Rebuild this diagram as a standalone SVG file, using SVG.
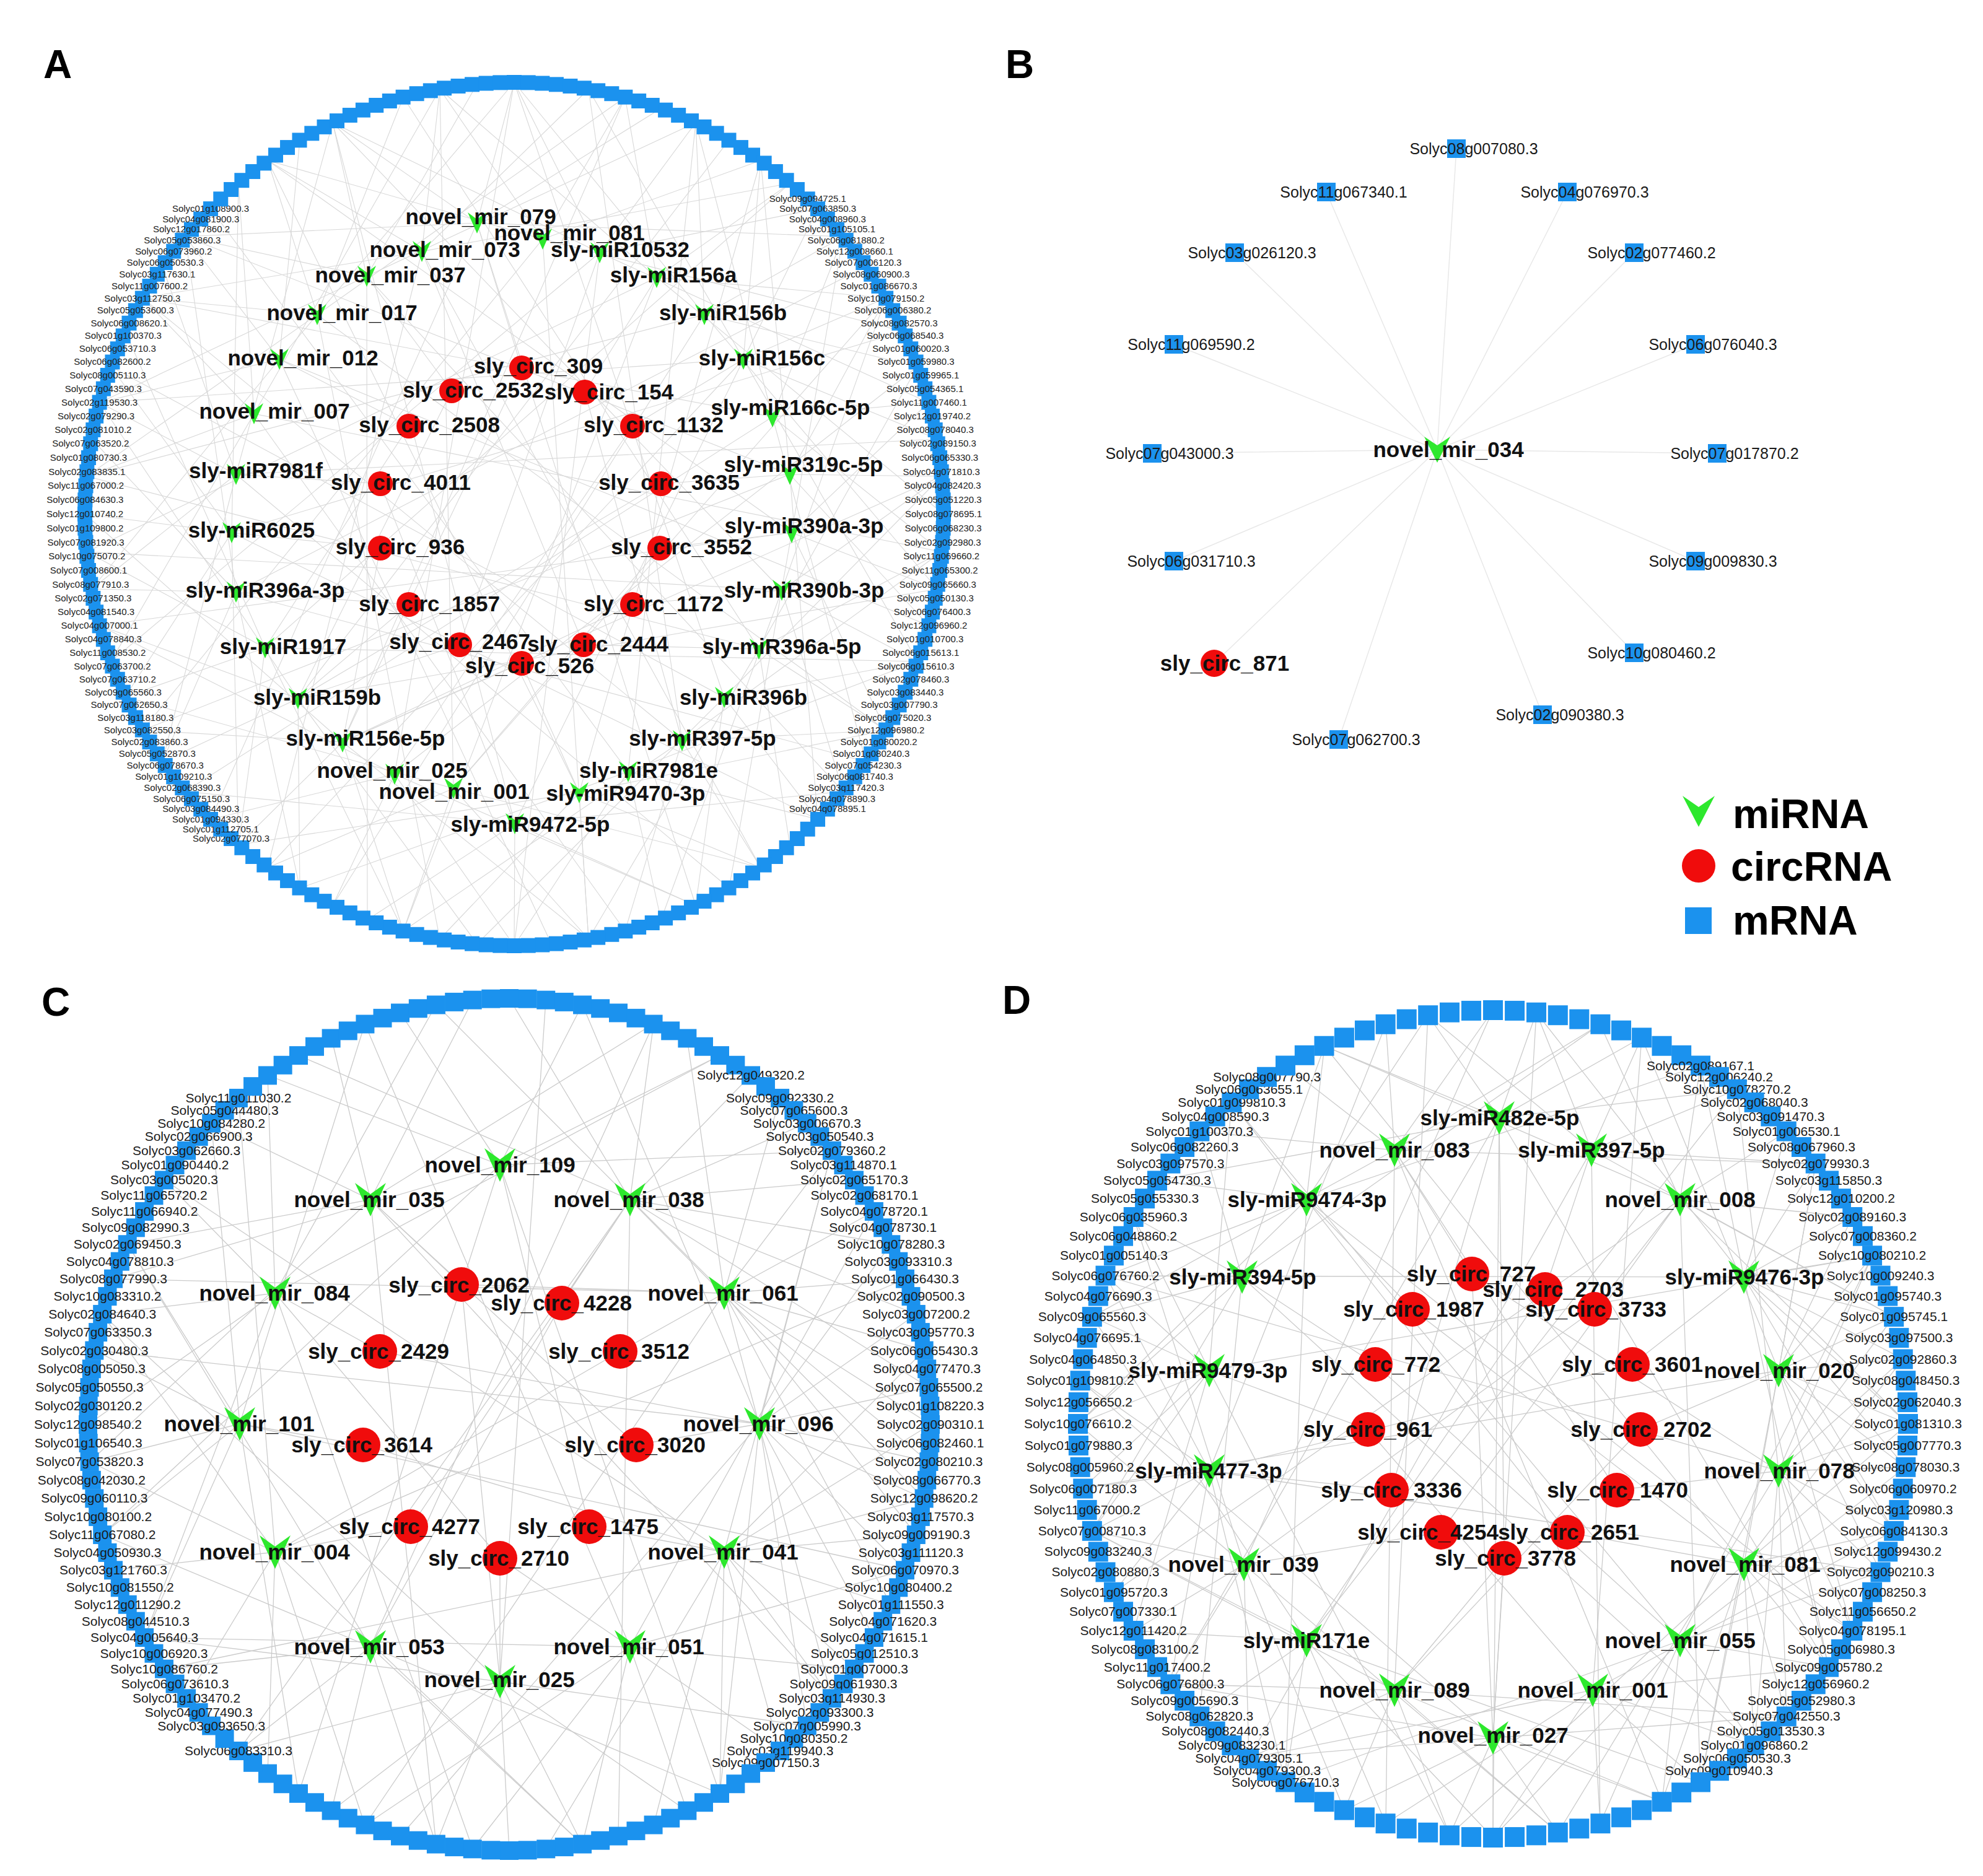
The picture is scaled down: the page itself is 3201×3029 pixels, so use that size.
<svg xmlns="http://www.w3.org/2000/svg" width="3201" height="3029" viewBox="0 0 3201 3029">
<style>
text{font-family:"Liberation Sans",Arial,sans-serif}
.e{fill:none;stroke:#cbcbcb;stroke-width:1.3}
.ea{fill:none;stroke:#d8d8d8;stroke-width:1.1}
.eb{fill:none;stroke:#e8e8e8;stroke-width:1.5}
.mi{fill:#2de82d}
.ci{fill:#f00c0c}
.mr{fill:#1b92ee}
.t{font-weight:bold;font-size:35px;text-anchor:middle;fill:#111}
.ra{font-size:15px;text-anchor:middle;fill:#222}
.rc{font-size:21px;text-anchor:middle;fill:#1a1a1a}
.rb{font-size:25px;text-anchor:middle;fill:#1a1a1a}
.p{font-weight:bold;font-size:64px;fill:#000}
.lg{font-weight:bold;font-size:66px;fill:#000}
</style>
<defs>
<rect id="sa" class="mr" x="-12" y="-12" width="24" height="24"/>
<rect id="sc" class="mr" x="-15" y="-15" width="30" height="30"/>
<rect id="sd" class="mr" x="-16" y="-16" width="32" height="32"/>
<rect id="sb" class="mr" x="-15" y="-15" width="30" height="30"/>
<path id="va" class="mi" d="M-15 -17L0 -6L15 -17L0 17Z"/>
<path id="vb" class="mi" d="M-21 -21L0 -7L21 -21L0 21Z"/>
<path id="vc" class="mi" d="M-25 -27L0 -9L25 -27L0 27Z"/>
<path id="vl" class="mi" d="M-26 -25L0 -7L26 -25L0 25Z"/>
<circle id="ca" class="ci" r="20"/>
<circle id="cb" class="ci" r="22"/>
<circle id="cc" class="ci" r="28"/>
</defs>
<rect width="3201" height="3029" fill="#fff"/>
<g id="panel-labels">
<text class="p" x="70" y="126">A</text>
<text class="p" x="1623" y="126">B</text>
<text class="p" x="67" y="1640">C</text>
<text class="p" x="1618" y="1637">D</text>
</g>
<g id="connectors">
<g id="edges-A" class="ea">
<path d="M299 382L770 360L537 198M830 133L770 360L1067 175M1361 382L770 360L1123 1462M340 1323L770 360"/>
<path d="M432 259L876 386L710 144M1009 157L876 386L1228 259M1458 535L876 386L950 1516M230 1179L876 386"/>
<path d="M230 481L681 406L432 259M710 144L681 406L950 144M1275 296L681 406L1228 1401M432 1401L681 406"/>
<path d="M537 198L968 408L830 133M1123 198L968 408L1320 337M1499 650L968 408L830 1527M179 1068L968 408"/>
<path d="M161 650L592 446L299 382M537 198L592 446L770 136M1123 198L592 446L1361 1278M593 1485L592 446"/>
<path d="M710 144L1060 448L1009 157M1275 296L1060 448L1430 481M1523 830L1060 448L651 1503M140 891L1060 448"/>
<path d="M140 769L512 508L230 481M432 259L512 508L651 157M1009 157L512 508L1430 1179M710 1516L512 508"/>
<path d="M830 133L1137 508L1123 198M1361 382L1137 508L1481 592M1513 951L1137 508L537 1462M140 769L1137 508"/>
<path d="M148 951L451 580L161 650M299 382L451 580L484 226M830 133L451 580L1499 1010M890 1524L451 580"/>
<path d="M950 144L1200 580L1228 259M1430 481L1200 580L1513 709M1481 1068L1200 580L432 1401M161 650L1200 580"/>
<path d="M179 1068L410 668L140 769M230 481L410 668L385 296M710 144L410 668L1520 891M1009 1503L410 668"/>
<path d="M1123 198L1247 673L1361 382M1499 650L1247 673L1520 891M1398 1230L1247 673L299 1278M230 481L1247 673"/>
<path d="M262 1230L381 766L148 951M161 650L381 766L262 430M537 198L381 766L1513 709M1177 1434L381 766"/>
<path d="M1228 259L1275 766L1430 481M1520 769L1275 766L1499 1010M1320 1323L1275 766L230 1179M299 382L1275 766"/>
<path d="M385 1364L374 860L202 1125M137 830L374 860L179 592M385 296L374 860L1458 535M1320 1323L374 860"/>
<path d="M1361 382L1278 860L1499 650M1513 951L1278 860L1430 1179M1177 1434L1278 860L161 1010M432 259L1278 860"/>
<path d="M484 1434L381 956L262 1230M148 951L381 956L148 709M299 382L381 956L1398 430M1398 1230L381 956"/>
<path d="M1430 481L1262 953L1520 769M1481 1068L1262 953L1361 1278M1067 1485L1262 953L140 891M537 198L1262 953"/>
<path d="M651 1503L428 1046L385 1364M202 1125L428 1046L140 891M202 535L428 1046L1275 296M1481 1068L428 1046"/>
<path d="M1481 592L1225 1048L1520 891M1430 1179L1225 1048L1275 1364M950 1516L1225 1048L140 769M651 157L1225 1048"/>
<path d="M770 1524L481 1128L484 1434M262 1230L481 1128L161 1010M161 650L481 1128L1177 226M1513 951L481 1128"/>
<path d="M1520 769L1169 1126L1481 1068M1320 1323L1169 1126L1123 1462M770 1524L1169 1126L179 592M830 133L1169 1126"/>
<path d="M950 1516L553 1198L651 1503M385 1364L553 1198L230 1179M137 830L553 1198L1009 157M1520 769L553 1198"/>
<path d="M1520 891L1101 1196L1430 1179M1228 1401L1101 1196L1009 1503M651 1503L1101 1196L230 481M950 144L1101 1196"/>
<path d="M1123 1462L637 1250L830 1527M537 1462L637 1250L340 1323M161 1010L637 1250L830 133M1481 592L637 1250"/>
<path d="M1481 1068L1014 1246L1320 1323M1067 1485L1014 1246L830 1527M484 1434L1014 1246L340 337M1123 198L1014 1246"/>
<path d="M1228 1401L732 1273L950 1516M651 1503L732 1273L432 1401M202 1125L732 1273L710 144M1430 481L732 1273"/>
<path d="M1430 1179L935 1280L1228 1401M950 1516L935 1280L710 1516M385 1364L935 1280L432 259M1228 259L935 1280"/>
<path d="M1361 1278L831 1330L1123 1462M830 1527L831 1330L593 1485M299 1278L831 1330L537 198M1320 337L831 1330"/>
<path d="M770 360L842 594L553 1198M592 446L729 631L481 1128M1060 448L944 633L1101 1196M451 580L660 688L428 1046M1200 580L1021 688L637 1250M381 766L614 781L831 1330M1275 766L1067 781L481 1128M374 860L614 885L553 1198M1278 860L1065 885L732 1273M381 956L660 976L481 1128M1262 953L1021 976L553 1198M481 1128L742 1041L968 408M1225 1048L942 1041L681 406M935 1280L842 1071L553 1198"/>
</g>
<g id="edges-B" class="eb">
<path d="M2351 240L2320 726L2141 310M2530 310L2320 726L1993 408M2638 408L2320 726L1895 556M2737 556L2320 726L1860 732M2772 732L2320 726L1895 906M2737 906L2320 726L2638 1054M2490 1154L2320 726L2161 1194M1960 1071L2320 726"/>
</g>
<g id="edges-C" class="e">
<path d="M432 1736L807 1881L646 1635M940 1622L807 1881L1162 1704M1343 1858L807 1881L183 2065M1162 2896L807 1881L482 2896M165 2478L807 1881"/>
<path d="M206 2009L598 1937L341 1813M535 1676L598 1937L763 1615M1055 1653L598 1937L145 2360M704 2978L598 1937L1343 2742"/>
<path d="M822 1612L1017 1937L1055 1653M1212 1736L1017 1937L1303 1813M1379 1905L1017 1937L1438 2009M1479 2122L1017 1937L1499 2240M1492 2420L1017 1937L482 1704M385 2827L1017 1937L998 2965"/>
<path d="M142 2300L444 2088L165 2122M265 1905L444 2088L432 1736M704 1622L444 2088L233 2644M1162 1704L444 2088L763 2985"/>
<path d="M1109 1676L1169 2088L1259 1773M1343 1858L1169 2088L1411 1956M1461 2065L1169 2088L1492 2180M1502 2300L1169 2088L1499 2360M1479 2478L1169 2088L1438 2591M1343 2742L1169 2088L704 1622M183 2065L1169 2088L589 2947"/>
<path d="M233 2644L387 2299L165 2478M145 2360L387 2299L152 2180M206 2009L387 2299L341 1813M482 2896L387 2299L589 1653M1461 2535L387 2299"/>
<path d="M1343 1858L1226 2299L1438 2009M1479 2122L1226 2299L1499 2240M1499 2360L1226 2299L1492 2420M1461 2535L1226 2299L1411 2644M1303 2787L1226 2299L1162 2896M940 1622L1226 2299L646 2965M152 2180L1226 2299"/>
<path d="M432 2864L444 2506L301 2742M183 2535L444 2506L145 2360M165 2122L444 2506L589 2947M940 2978L444 2506L385 1773M1461 2065L444 2506"/>
<path d="M1492 2180L1169 2506L1502 2300M1492 2420L1169 2506L1479 2478M1438 2591L1169 2506L1379 2695M1343 2742L1169 2506L1259 2827M1162 2896L1169 2506L1055 2947M881 2985L1169 2506L1343 1858M265 2695L1169 2506L265 1905"/>
<path d="M704 2978L598 2659L535 2924M385 2827L598 2659L265 2695M165 2478L598 2659L940 2978M1162 2896L598 2659L206 2009M1055 1653L598 2659"/>
<path d="M1461 2535L1017 2659L1379 2695M1259 2827L1017 2659L1109 2924M940 2978L1017 2659L763 2985M589 2947L1017 2659L1411 1956M233 2644L1017 2659L589 1653"/>
<path d="M1109 2924L807 2715L940 2978M822 2988L807 2715L704 2978M535 2924L807 2715L385 2827M1303 2787L807 2715L233 2644M881 1615L807 2715L165 2122"/>
<path d="M598 1937L745 2074L1169 2088M745 2074L807 2715M1017 1937L907 2104L598 2659M444 2088L613 2182L1226 2299M1169 2088L1001 2182L444 2506M387 2299L586 2333L1169 2506M1226 2299L1027 2333L598 1937M444 2506L663 2465L1017 1937M1169 2506L951 2465L807 1881M807 2715L807 2516L1017 2659M807 2516L444 2088"/>
</g>
<g id="edges-D" class="e">
<path d="M2138 1689L2420 1805L2305 1639M2480 1635L2420 1805L2650 1675M2804 1759L2420 1805L1868 1906M2410 2967L2420 1805L1889 2719M2952 2692L2420 1805"/>
<path d="M1936 1827L2251 1857L2075 1720M2237 1654L2251 1857L2410 1631M2583 1654L2251 1857L1763 2126M2237 2944L2251 1857L2683 2909M2931 1879L2251 1857"/>
<path d="M2305 1639L2569 1857L2480 1635M2650 1675L2569 1857L2804 1759M2931 1879L2569 1857L3057 2126M2583 2944L2569 1857L2016 2839"/>
<path d="M1785 2060L2109 1937L1868 1906M1988 1780L2109 1937L2138 1689M2305 1639L2109 1937L1740 2299M2075 2878L2109 1937L2745 1720M2990 2633L2109 1937"/>
<path d="M2583 1654L2712 1937L2745 1720M2884 1827L2712 1937L2990 1965M3057 2126L2712 1937L3080 2299M2138 1689L2712 1937L2745 2878M1798 2571L2712 1937"/>
<path d="M1740 2299L2005 2062L1763 2126M1830 1965L2005 2062L1936 1827M2138 1689L2005 2062L1763 2472M1936 2771L2005 2062L2583 1654M2832 2818L2005 2062"/>
<path d="M2745 1720L2815 2062L2884 1827M2931 1879L2815 2062L2990 1965M3022 2028L2815 2062L3057 2126M3072 2194L2815 2062L3080 2299M3076 2369L2815 2062L3057 2472M2480 1635L2815 2062L2952 2692M1785 2060L2815 2062"/>
<path d="M1763 2472L1952 2213L1748 2403M1740 2299L1952 2213L1744 2229M1763 2126L1952 2213L1785 2060M1830 1965L1952 2213L1830 2633M1988 1780L1952 2213L2340 2963M3022 2028L1952 2213"/>
<path d="M2931 1879L2871 2213L2990 1965M3022 2028L2871 2213L3057 2126M3072 2194L2871 2213L3080 2299M3076 2369L2871 2213L3057 2472M3036 2538L2871 2213L2990 2633M2650 1675L2871 2213L2745 2878M1748 2403L2871 2213"/>
<path d="M1889 2719L1952 2375L1798 2571M1763 2472L1952 2375L1748 2403M1744 2229L1952 2375L1785 2060M2075 2878L1952 2375L2237 1654M3036 2538L1952 2375"/>
<path d="M3022 2028L2871 2375L3057 2126M3072 2194L2871 2375L3080 2299M3076 2369L2871 2375L3057 2472M3036 2538L2871 2375L2990 2633M2952 2692L2871 2375L2884 2771M2832 2818L2871 2375L2804 1759M2515 2959L2871 2375L1785 2060"/>
<path d="M2016 2839L2008 2526L1889 2719M1830 2633L2008 2526L1763 2472M1740 2299L2008 2526L2170 2923M1830 1965L2008 2526L2515 2959M2410 1631L2008 2526"/>
<path d="M3072 2194L2815 2526L3080 2299M3057 2472L2815 2526L3036 2538M2990 2633L2815 2526L2952 2692M2884 2771L2815 2526L2832 2818M2745 2878L2815 2526L2683 2909M2931 1879L2815 2526L2340 2963M2138 1689L2815 2526"/>
<path d="M2237 2944L2109 2649L2075 2878M1936 2771L2109 2649L1830 2633M1763 2472L2109 2649L2410 2967M1763 2126L2109 2649L2745 2878M2804 1759L2109 2649"/>
<path d="M3076 2369L2712 2649L3036 2538M2952 2692L2712 2649L2832 2818M2683 2909L2712 2649L2583 2944M2410 2967L2712 2649L3022 2028M2075 2878L2712 2649L1988 1780"/>
<path d="M2515 2959L2251 2729L2340 2963M2170 2923L2251 2729L2016 2839M1889 2719L2251 2729L2683 2909M1763 2472L2251 2729L2884 2771M2305 1639L2251 2729"/>
<path d="M2952 2692L2571 2729L2832 2818M2745 2878L2571 2729L2583 2944M2410 2967L2571 2729L2237 2944M3057 2472L2571 2729L2016 2839M2650 1675L2571 2729"/>
<path d="M2683 2909L2410 2806L2515 2959M2410 2967L2410 2806L2340 2963M2170 2923L2410 2806L2016 2839M2884 2771L2410 2806L1889 2719M2480 1635L2410 2806L1744 2229"/>
<path d="M2251 1857L2376 2057L2871 2375M2376 2057L2410 2806M2569 1857L2494 2082L2109 2649M2109 1937L2280 2114L2815 2526M2712 1937L2574 2114L2008 2526M2005 2062L2220 2203L2712 2649M2815 2062L2635 2203L1952 2375M1952 2213L2208 2308L2571 2729M2871 2213L2648 2308L2251 2729M1952 2375L2246 2406L2420 1805M2871 2375L2610 2406L2251 1857M2008 2526L2326 2474L2712 1937M2815 2526L2530 2474L2109 1937M2410 2806L2428 2516L2420 1805M2428 2516L2251 2729"/>
</g>
</g>
<g id="ring-A" transform="translate(830 830) scale(693 697)">
<g id="a0" transform="rotate(0) translate(1) rotate(0) scale(.001443 .00143472)"><use href="#sa"/><text class="ra" y="5">Solyc08g078695.1</text></g>
<g id="a1" transform="rotate(1.875) translate(1) rotate(-1.875) scale(.001443 .00143472)"><use href="#sa"/><text class="ra" y="5">Solyc06g068230.3</text></g>
<g id="a2" transform="rotate(3.75) translate(1) rotate(-3.75) scale(.001443 .00143472)"><use href="#sa"/><text class="ra" y="5">Solyc02g092980.3</text></g>
<g id="a3" transform="rotate(5.625) translate(1) rotate(-5.625) scale(.001443 .00143472)"><use href="#sa"/><text class="ra" y="5">Solyc11g069660.2</text></g>
<g id="a4" transform="rotate(7.5) translate(1) rotate(-7.5) scale(.001443 .00143472)"><use href="#sa"/><text class="ra" y="5">Solyc11g065300.2</text></g>
<g id="a5" transform="rotate(9.375) translate(1) rotate(-9.375) scale(.001443 .00143472)"><use href="#sa"/><text class="ra" y="5">Solyc09g065660.3</text></g>
<g id="a6" transform="rotate(11.25) translate(1) rotate(-11.25) scale(.001443 .00143472)"><use href="#sa"/><text class="ra" y="5">Solyc05g050130.3</text></g>
<g id="a7" transform="rotate(13.125) translate(1) rotate(-13.125) scale(.001443 .00143472)"><use href="#sa"/><text class="ra" y="5">Solyc06g076400.3</text></g>
<g id="a8" transform="rotate(15) translate(1) rotate(-15) scale(.001443 .00143472)"><use href="#sa"/><text class="ra" y="5">Solyc12g096960.2</text></g>
<g id="a9" transform="rotate(16.875) translate(1) rotate(-16.875) scale(.001443 .00143472)"><use href="#sa"/><text class="ra" y="5">Solyc01g010700.3</text></g>
<g id="a10" transform="rotate(18.75) translate(1) rotate(-18.75) scale(.001443 .00143472)"><use href="#sa"/><text class="ra" y="5">Solyc06g015613.1</text></g>
<g id="a11" transform="rotate(20.625) translate(1) rotate(-20.625) scale(.001443 .00143472)"><use href="#sa"/><text class="ra" y="5">Solyc06g015610.3</text></g>
<g id="a12" transform="rotate(22.5) translate(1) rotate(-22.5) scale(.001443 .00143472)"><use href="#sa"/><text class="ra" y="5">Solyc02g078460.3</text></g>
<g id="a13" transform="rotate(24.375) translate(1) rotate(-24.375) scale(.001443 .00143472)"><use href="#sa"/><text class="ra" y="5">Solyc03g083440.3</text></g>
<g id="a14" transform="rotate(26.25) translate(1) rotate(-26.25) scale(.001443 .00143472)"><use href="#sa"/><text class="ra" y="5">Solyc03g007790.3</text></g>
<g id="a15" transform="rotate(28.125) translate(1) rotate(-28.125) scale(.001443 .00143472)"><use href="#sa"/><text class="ra" y="5">Solyc06g075020.3</text></g>
<g id="a16" transform="rotate(30) translate(1) rotate(-30) scale(.001443 .00143472)"><use href="#sa"/><text class="ra" y="5">Solyc12g096980.2</text></g>
<g id="a17" transform="rotate(31.875) translate(1) rotate(-31.875) scale(.001443 .00143472)"><use href="#sa"/><text class="ra" y="5">Solyc01g080020.2</text></g>
<g id="a18" transform="rotate(33.75) translate(1) rotate(-33.75) scale(.001443 .00143472)"><use href="#sa"/><text class="ra" y="5">Solyc01g080240.3</text></g>
<g id="a19" transform="rotate(35.625) translate(1) rotate(-35.625) scale(.001443 .00143472)"><use href="#sa"/><text class="ra" y="5">Solyc07g054230.3</text></g>
<g id="a20" transform="rotate(37.5) translate(1) rotate(-37.5) scale(.001443 .00143472)"><use href="#sa"/><text class="ra" y="5">Solyc06g081740.3</text></g>
<g id="a21" transform="rotate(39.375) translate(1) rotate(-39.375) scale(.001443 .00143472)"><use href="#sa"/><text class="ra" y="5">Solyc03g117420.3</text></g>
<g id="a22" transform="rotate(41.25) translate(1) rotate(-41.25) scale(.001443 .00143472)"><use href="#sa"/><text class="ra" y="5">Solyc04g078890.3</text></g>
<g id="a23" transform="rotate(43.125) translate(1) rotate(-43.125) scale(.001443 .00143472)"><use href="#sa"/><text class="ra" y="5">Solyc04g078895.1</text></g>
<g id="a24" transform="rotate(45) translate(1) rotate(-45) scale(.001443 .00143472)"><use href="#sa"/></g>
<g id="a25" transform="rotate(46.875) translate(1) rotate(-46.875) scale(.001443 .00143472)"><use href="#sa"/></g>
<g id="a26" transform="rotate(48.75) translate(1) rotate(-48.75) scale(.001443 .00143472)"><use href="#sa"/></g>
<g id="a27" transform="rotate(50.625) translate(1) rotate(-50.625) scale(.001443 .00143472)"><use href="#sa"/></g>
<g id="a28" transform="rotate(52.5) translate(1) rotate(-52.5) scale(.001443 .00143472)"><use href="#sa"/></g>
<g id="a29" transform="rotate(54.375) translate(1) rotate(-54.375) scale(.001443 .00143472)"><use href="#sa"/></g>
<g id="a30" transform="rotate(56.25) translate(1) rotate(-56.25) scale(.001443 .00143472)"><use href="#sa"/></g>
<g id="a31" transform="rotate(58.125) translate(1) rotate(-58.125) scale(.001443 .00143472)"><use href="#sa"/></g>
<g id="a32" transform="rotate(60) translate(1) rotate(-60) scale(.001443 .00143472)"><use href="#sa"/></g>
<g id="a33" transform="rotate(61.875) translate(1) rotate(-61.875) scale(.001443 .00143472)"><use href="#sa"/></g>
<g id="a34" transform="rotate(63.75) translate(1) rotate(-63.75) scale(.001443 .00143472)"><use href="#sa"/></g>
<g id="a35" transform="rotate(65.625) translate(1) rotate(-65.625) scale(.001443 .00143472)"><use href="#sa"/></g>
<g id="a36" transform="rotate(67.5) translate(1) rotate(-67.5) scale(.001443 .00143472)"><use href="#sa"/></g>
<g id="a37" transform="rotate(69.375) translate(1) rotate(-69.375) scale(.001443 .00143472)"><use href="#sa"/></g>
<g id="a38" transform="rotate(71.25) translate(1) rotate(-71.25) scale(.001443 .00143472)"><use href="#sa"/></g>
<g id="a39" transform="rotate(73.125) translate(1) rotate(-73.125) scale(.001443 .00143472)"><use href="#sa"/></g>
<g id="a40" transform="rotate(75) translate(1) rotate(-75) scale(.001443 .00143472)"><use href="#sa"/></g>
<g id="a41" transform="rotate(76.875) translate(1) rotate(-76.875) scale(.001443 .00143472)"><use href="#sa"/></g>
<g id="a42" transform="rotate(78.75) translate(1) rotate(-78.75) scale(.001443 .00143472)"><use href="#sa"/></g>
<g id="a43" transform="rotate(80.625) translate(1) rotate(-80.625) scale(.001443 .00143472)"><use href="#sa"/></g>
<g id="a44" transform="rotate(82.5) translate(1) rotate(-82.5) scale(.001443 .00143472)"><use href="#sa"/></g>
<g id="a45" transform="rotate(84.375) translate(1) rotate(-84.375) scale(.001443 .00143472)"><use href="#sa"/></g>
<g id="a46" transform="rotate(86.25) translate(1) rotate(-86.25) scale(.001443 .00143472)"><use href="#sa"/></g>
<g id="a47" transform="rotate(88.125) translate(1) rotate(-88.125) scale(.001443 .00143472)"><use href="#sa"/></g>
<g id="a48" transform="rotate(90) translate(1) rotate(-90) scale(.001443 .00143472)"><use href="#sa"/></g>
<g id="a49" transform="rotate(91.875) translate(1) rotate(-91.875) scale(.001443 .00143472)"><use href="#sa"/></g>
<g id="a50" transform="rotate(93.75) translate(1) rotate(-93.75) scale(.001443 .00143472)"><use href="#sa"/></g>
<g id="a51" transform="rotate(95.625) translate(1) rotate(-95.625) scale(.001443 .00143472)"><use href="#sa"/></g>
<g id="a52" transform="rotate(97.5) translate(1) rotate(-97.5) scale(.001443 .00143472)"><use href="#sa"/></g>
<g id="a53" transform="rotate(99.375) translate(1) rotate(-99.375) scale(.001443 .00143472)"><use href="#sa"/></g>
<g id="a54" transform="rotate(101.25) translate(1) rotate(-101.25) scale(.001443 .00143472)"><use href="#sa"/></g>
<g id="a55" transform="rotate(103.125) translate(1) rotate(-103.125) scale(.001443 .00143472)"><use href="#sa"/></g>
<g id="a56" transform="rotate(105) translate(1) rotate(-105) scale(.001443 .00143472)"><use href="#sa"/></g>
<g id="a57" transform="rotate(106.875) translate(1) rotate(-106.875) scale(.001443 .00143472)"><use href="#sa"/></g>
<g id="a58" transform="rotate(108.75) translate(1) rotate(-108.75) scale(.001443 .00143472)"><use href="#sa"/></g>
<g id="a59" transform="rotate(110.625) translate(1) rotate(-110.625) scale(.001443 .00143472)"><use href="#sa"/></g>
<g id="a60" transform="rotate(112.5) translate(1) rotate(-112.5) scale(.001443 .00143472)"><use href="#sa"/></g>
<g id="a61" transform="rotate(114.375) translate(1) rotate(-114.375) scale(.001443 .00143472)"><use href="#sa"/></g>
<g id="a62" transform="rotate(116.25) translate(1) rotate(-116.25) scale(.001443 .00143472)"><use href="#sa"/></g>
<g id="a63" transform="rotate(118.125) translate(1) rotate(-118.125) scale(.001443 .00143472)"><use href="#sa"/></g>
<g id="a64" transform="rotate(120) translate(1) rotate(-120) scale(.001443 .00143472)"><use href="#sa"/></g>
<g id="a65" transform="rotate(121.875) translate(1) rotate(-121.875) scale(.001443 .00143472)"><use href="#sa"/></g>
<g id="a66" transform="rotate(123.75) translate(1) rotate(-123.75) scale(.001443 .00143472)"><use href="#sa"/></g>
<g id="a67" transform="rotate(125.625) translate(1) rotate(-125.625) scale(.001443 .00143472)"><use href="#sa"/></g>
<g id="a68" transform="rotate(127.5) translate(1) rotate(-127.5) scale(.001443 .00143472)"><use href="#sa"/></g>
<g id="a69" transform="rotate(129.375) translate(1) rotate(-129.375) scale(.001443 .00143472)"><use href="#sa"/></g>
<g id="a70" transform="rotate(131.25) translate(1) rotate(-131.25) scale(.001443 .00143472)"><use href="#sa"/><text class="ra" y="5">Solyc02g077070.3</text></g>
<g id="a71" transform="rotate(133.125) translate(1) rotate(-133.125) scale(.001443 .00143472)"><use href="#sa"/><text class="ra" y="5">Solyc01g112705.1</text></g>
<g id="a72" transform="rotate(135) translate(1) rotate(-135) scale(.001443 .00143472)"><use href="#sa"/><text class="ra" y="5">Solyc01g094330.3</text></g>
<g id="a73" transform="rotate(136.875) translate(1) rotate(-136.875) scale(.001443 .00143472)"><use href="#sa"/><text class="ra" y="5">Solyc03g084490.3</text></g>
<g id="a74" transform="rotate(138.75) translate(1) rotate(-138.75) scale(.001443 .00143472)"><use href="#sa"/><text class="ra" y="5">Solyc06g075150.3</text></g>
<g id="a75" transform="rotate(140.625) translate(1) rotate(-140.625) scale(.001443 .00143472)"><use href="#sa"/><text class="ra" y="5">Solyc02g068390.3</text></g>
<g id="a76" transform="rotate(142.5) translate(1) rotate(-142.5) scale(.001443 .00143472)"><use href="#sa"/><text class="ra" y="5">Solyc01g109210.3</text></g>
<g id="a77" transform="rotate(144.375) translate(1) rotate(-144.375) scale(.001443 .00143472)"><use href="#sa"/><text class="ra" y="5">Solyc06g078670.3</text></g>
<g id="a78" transform="rotate(146.25) translate(1) rotate(-146.25) scale(.001443 .00143472)"><use href="#sa"/><text class="ra" y="5">Solyc05g052870.3</text></g>
<g id="a79" transform="rotate(148.125) translate(1) rotate(-148.125) scale(.001443 .00143472)"><use href="#sa"/><text class="ra" y="5">Solyc02g083860.3</text></g>
<g id="a80" transform="rotate(150) translate(1) rotate(-150) scale(.001443 .00143472)"><use href="#sa"/><text class="ra" y="5">Solyc03g082550.3</text></g>
<g id="a81" transform="rotate(151.875) translate(1) rotate(-151.875) scale(.001443 .00143472)"><use href="#sa"/><text class="ra" y="5">Solyc03g118180.3</text></g>
<g id="a82" transform="rotate(153.75) translate(1) rotate(-153.75) scale(.001443 .00143472)"><use href="#sa"/><text class="ra" y="5">Solyc07g062650.3</text></g>
<g id="a83" transform="rotate(155.625) translate(1) rotate(-155.625) scale(.001443 .00143472)"><use href="#sa"/><text class="ra" y="5">Solyc09g065560.3</text></g>
<g id="a84" transform="rotate(157.5) translate(1) rotate(-157.5) scale(.001443 .00143472)"><use href="#sa"/><text class="ra" y="5">Solyc07g063710.2</text></g>
<g id="a85" transform="rotate(159.375) translate(1) rotate(-159.375) scale(.001443 .00143472)"><use href="#sa"/><text class="ra" y="5">Solyc07g063700.2</text></g>
<g id="a86" transform="rotate(161.25) translate(1) rotate(-161.25) scale(.001443 .00143472)"><use href="#sa"/><text class="ra" y="5">Solyc11g008530.2</text></g>
<g id="a87" transform="rotate(163.125) translate(1) rotate(-163.125) scale(.001443 .00143472)"><use href="#sa"/><text class="ra" y="5">Solyc04g078840.3</text></g>
<g id="a88" transform="rotate(165) translate(1) rotate(-165) scale(.001443 .00143472)"><use href="#sa"/><text class="ra" y="5">Solyc04g007000.1</text></g>
<g id="a89" transform="rotate(166.875) translate(1) rotate(-166.875) scale(.001443 .00143472)"><use href="#sa"/><text class="ra" y="5">Solyc04g081540.3</text></g>
<g id="a90" transform="rotate(168.75) translate(1) rotate(-168.75) scale(.001443 .00143472)"><use href="#sa"/><text class="ra" y="5">Solyc02g071350.3</text></g>
<g id="a91" transform="rotate(170.625) translate(1) rotate(-170.625) scale(.001443 .00143472)"><use href="#sa"/><text class="ra" y="5">Solyc08g077910.3</text></g>
<g id="a92" transform="rotate(172.5) translate(1) rotate(-172.5) scale(.001443 .00143472)"><use href="#sa"/><text class="ra" y="5">Solyc07g008600.1</text></g>
<g id="a93" transform="rotate(174.375) translate(1) rotate(-174.375) scale(.001443 .00143472)"><use href="#sa"/><text class="ra" y="5">Solyc10g075070.2</text></g>
<g id="a94" transform="rotate(176.25) translate(1) rotate(-176.25) scale(.001443 .00143472)"><use href="#sa"/><text class="ra" y="5">Solyc07g081920.3</text></g>
<g id="a95" transform="rotate(178.125) translate(1) rotate(-178.125) scale(.001443 .00143472)"><use href="#sa"/><text class="ra" y="5">Solyc01g109800.2</text></g>
<g id="a96" transform="rotate(180) translate(1) rotate(-180) scale(.001443 .00143472)"><use href="#sa"/><text class="ra" y="5">Solyc12g010740.2</text></g>
<g id="a97" transform="rotate(181.875) translate(1) rotate(-181.875) scale(.001443 .00143472)"><use href="#sa"/><text class="ra" y="5">Solyc06g084630.3</text></g>
<g id="a98" transform="rotate(183.75) translate(1) rotate(-183.75) scale(.001443 .00143472)"><use href="#sa"/><text class="ra" y="5">Solyc11g067000.2</text></g>
<g id="a99" transform="rotate(185.625) translate(1) rotate(-185.625) scale(.001443 .00143472)"><use href="#sa"/><text class="ra" y="5">Solyc02g083835.1</text></g>
<g id="a100" transform="rotate(187.5) translate(1) rotate(-187.5) scale(.001443 .00143472)"><use href="#sa"/><text class="ra" y="5">Solyc01g080730.3</text></g>
<g id="a101" transform="rotate(189.375) translate(1) rotate(-189.375) scale(.001443 .00143472)"><use href="#sa"/><text class="ra" y="5">Solyc07g063520.2</text></g>
<g id="a102" transform="rotate(191.25) translate(1) rotate(-191.25) scale(.001443 .00143472)"><use href="#sa"/><text class="ra" y="5">Solyc02g081010.2</text></g>
<g id="a103" transform="rotate(193.125) translate(1) rotate(-193.125) scale(.001443 .00143472)"><use href="#sa"/><text class="ra" y="5">Solyc02g079290.3</text></g>
<g id="a104" transform="rotate(195) translate(1) rotate(-195) scale(.001443 .00143472)"><use href="#sa"/><text class="ra" y="5">Solyc02g119530.3</text></g>
<g id="a105" transform="rotate(196.875) translate(1) rotate(-196.875) scale(.001443 .00143472)"><use href="#sa"/><text class="ra" y="5">Solyc07g043590.3</text></g>
<g id="a106" transform="rotate(198.75) translate(1) rotate(-198.75) scale(.001443 .00143472)"><use href="#sa"/><text class="ra" y="5">Solyc08g005110.3</text></g>
<g id="a107" transform="rotate(200.625) translate(1) rotate(-200.625) scale(.001443 .00143472)"><use href="#sa"/><text class="ra" y="5">Solyc06g082600.2</text></g>
<g id="a108" transform="rotate(202.5) translate(1) rotate(-202.5) scale(.001443 .00143472)"><use href="#sa"/><text class="ra" y="5">Solyc06g053710.3</text></g>
<g id="a109" transform="rotate(204.375) translate(1) rotate(-204.375) scale(.001443 .00143472)"><use href="#sa"/><text class="ra" y="5">Solyc01g100370.3</text></g>
<g id="a110" transform="rotate(206.25) translate(1) rotate(-206.25) scale(.001443 .00143472)"><use href="#sa"/><text class="ra" y="5">Solyc06g008620.1</text></g>
<g id="a111" transform="rotate(208.125) translate(1) rotate(-208.125) scale(.001443 .00143472)"><use href="#sa"/><text class="ra" y="5">Solyc05g053600.3</text></g>
<g id="a112" transform="rotate(210) translate(1) rotate(-210) scale(.001443 .00143472)"><use href="#sa"/><text class="ra" y="5">Solyc03g112750.3</text></g>
<g id="a113" transform="rotate(211.875) translate(1) rotate(-211.875) scale(.001443 .00143472)"><use href="#sa"/><text class="ra" y="5">Solyc11g007600.2</text></g>
<g id="a114" transform="rotate(213.75) translate(1) rotate(-213.75) scale(.001443 .00143472)"><use href="#sa"/><text class="ra" y="5">Solyc03g117630.1</text></g>
<g id="a115" transform="rotate(215.625) translate(1) rotate(-215.625) scale(.001443 .00143472)"><use href="#sa"/><text class="ra" y="5">Solyc06g050530.3</text></g>
<g id="a116" transform="rotate(217.5) translate(1) rotate(-217.5) scale(.001443 .00143472)"><use href="#sa"/><text class="ra" y="5">Solyc06g073960.2</text></g>
<g id="a117" transform="rotate(219.375) translate(1) rotate(-219.375) scale(.001443 .00143472)"><use href="#sa"/><text class="ra" y="5">Solyc05g053860.3</text></g>
<g id="a118" transform="rotate(221.25) translate(1) rotate(-221.25) scale(.001443 .00143472)"><use href="#sa"/><text class="ra" y="5">Solyc12g017860.2</text></g>
<g id="a119" transform="rotate(223.125) translate(1) rotate(-223.125) scale(.001443 .00143472)"><use href="#sa"/><text class="ra" y="5">Solyc04g081900.3</text></g>
<g id="a120" transform="rotate(225) translate(1) rotate(-225) scale(.001443 .00143472)"><use href="#sa"/><text class="ra" y="5">Solyc01g108900.3</text></g>
<g id="a121" transform="rotate(226.875) translate(1) rotate(-226.875) scale(.001443 .00143472)"><use href="#sa"/></g>
<g id="a122" transform="rotate(228.75) translate(1) rotate(-228.75) scale(.001443 .00143472)"><use href="#sa"/></g>
<g id="a123" transform="rotate(230.625) translate(1) rotate(-230.625) scale(.001443 .00143472)"><use href="#sa"/></g>
<g id="a124" transform="rotate(232.5) translate(1) rotate(-232.5) scale(.001443 .00143472)"><use href="#sa"/></g>
<g id="a125" transform="rotate(234.375) translate(1) rotate(-234.375) scale(.001443 .00143472)"><use href="#sa"/></g>
<g id="a126" transform="rotate(236.25) translate(1) rotate(-236.25) scale(.001443 .00143472)"><use href="#sa"/></g>
<g id="a127" transform="rotate(238.125) translate(1) rotate(-238.125) scale(.001443 .00143472)"><use href="#sa"/></g>
<g id="a128" transform="rotate(240) translate(1) rotate(-240) scale(.001443 .00143472)"><use href="#sa"/></g>
<g id="a129" transform="rotate(241.875) translate(1) rotate(-241.875) scale(.001443 .00143472)"><use href="#sa"/></g>
<g id="a130" transform="rotate(243.75) translate(1) rotate(-243.75) scale(.001443 .00143472)"><use href="#sa"/></g>
<g id="a131" transform="rotate(245.625) translate(1) rotate(-245.625) scale(.001443 .00143472)"><use href="#sa"/></g>
<g id="a132" transform="rotate(247.5) translate(1) rotate(-247.5) scale(.001443 .00143472)"><use href="#sa"/></g>
<g id="a133" transform="rotate(249.375) translate(1) rotate(-249.375) scale(.001443 .00143472)"><use href="#sa"/></g>
<g id="a134" transform="rotate(251.25) translate(1) rotate(-251.25) scale(.001443 .00143472)"><use href="#sa"/></g>
<g id="a135" transform="rotate(253.125) translate(1) rotate(-253.125) scale(.001443 .00143472)"><use href="#sa"/></g>
<g id="a136" transform="rotate(255) translate(1) rotate(-255) scale(.001443 .00143472)"><use href="#sa"/></g>
<g id="a137" transform="rotate(256.875) translate(1) rotate(-256.875) scale(.001443 .00143472)"><use href="#sa"/></g>
<g id="a138" transform="rotate(258.75) translate(1) rotate(-258.75) scale(.001443 .00143472)"><use href="#sa"/></g>
<g id="a139" transform="rotate(260.625) translate(1) rotate(-260.625) scale(.001443 .00143472)"><use href="#sa"/></g>
<g id="a140" transform="rotate(262.5) translate(1) rotate(-262.5) scale(.001443 .00143472)"><use href="#sa"/></g>
<g id="a141" transform="rotate(264.375) translate(1) rotate(-264.375) scale(.001443 .00143472)"><use href="#sa"/></g>
<g id="a142" transform="rotate(266.25) translate(1) rotate(-266.25) scale(.001443 .00143472)"><use href="#sa"/></g>
<g id="a143" transform="rotate(268.125) translate(1) rotate(-268.125) scale(.001443 .00143472)"><use href="#sa"/></g>
<g id="a144" transform="rotate(270) translate(1) rotate(-270) scale(.001443 .00143472)"><use href="#sa"/></g>
<g id="a145" transform="rotate(271.875) translate(1) rotate(-271.875) scale(.001443 .00143472)"><use href="#sa"/></g>
<g id="a146" transform="rotate(273.75) translate(1) rotate(-273.75) scale(.001443 .00143472)"><use href="#sa"/></g>
<g id="a147" transform="rotate(275.625) translate(1) rotate(-275.625) scale(.001443 .00143472)"><use href="#sa"/></g>
<g id="a148" transform="rotate(277.5) translate(1) rotate(-277.5) scale(.001443 .00143472)"><use href="#sa"/></g>
<g id="a149" transform="rotate(279.375) translate(1) rotate(-279.375) scale(.001443 .00143472)"><use href="#sa"/></g>
<g id="a150" transform="rotate(281.25) translate(1) rotate(-281.25) scale(.001443 .00143472)"><use href="#sa"/></g>
<g id="a151" transform="rotate(283.125) translate(1) rotate(-283.125) scale(.001443 .00143472)"><use href="#sa"/></g>
<g id="a152" transform="rotate(285) translate(1) rotate(-285) scale(.001443 .00143472)"><use href="#sa"/></g>
<g id="a153" transform="rotate(286.875) translate(1) rotate(-286.875) scale(.001443 .00143472)"><use href="#sa"/></g>
<g id="a154" transform="rotate(288.75) translate(1) rotate(-288.75) scale(.001443 .00143472)"><use href="#sa"/></g>
<g id="a155" transform="rotate(290.625) translate(1) rotate(-290.625) scale(.001443 .00143472)"><use href="#sa"/></g>
<g id="a156" transform="rotate(292.5) translate(1) rotate(-292.5) scale(.001443 .00143472)"><use href="#sa"/></g>
<g id="a157" transform="rotate(294.375) translate(1) rotate(-294.375) scale(.001443 .00143472)"><use href="#sa"/></g>
<g id="a158" transform="rotate(296.25) translate(1) rotate(-296.25) scale(.001443 .00143472)"><use href="#sa"/></g>
<g id="a159" transform="rotate(298.125) translate(1) rotate(-298.125) scale(.001443 .00143472)"><use href="#sa"/></g>
<g id="a160" transform="rotate(300) translate(1) rotate(-300) scale(.001443 .00143472)"><use href="#sa"/></g>
<g id="a161" transform="rotate(301.875) translate(1) rotate(-301.875) scale(.001443 .00143472)"><use href="#sa"/></g>
<g id="a162" transform="rotate(303.75) translate(1) rotate(-303.75) scale(.001443 .00143472)"><use href="#sa"/></g>
<g id="a163" transform="rotate(305.625) translate(1) rotate(-305.625) scale(.001443 .00143472)"><use href="#sa"/></g>
<g id="a164" transform="rotate(307.5) translate(1) rotate(-307.5) scale(.001443 .00143472)"><use href="#sa"/></g>
<g id="a165" transform="rotate(309.375) translate(1) rotate(-309.375) scale(.001443 .00143472)"><use href="#sa"/></g>
<g id="a166" transform="rotate(311.25) translate(1) rotate(-311.25) scale(.001443 .00143472)"><use href="#sa"/></g>
<g id="a167" transform="rotate(313.125) translate(1) rotate(-313.125) scale(.001443 .00143472)"><use href="#sa"/><text class="ra" y="5">Solyc09g094725.1</text></g>
<g id="a168" transform="rotate(315) translate(1) rotate(-315) scale(.001443 .00143472)"><use href="#sa"/><text class="ra" y="5">Solyc07g063850.3</text></g>
<g id="a169" transform="rotate(316.875) translate(1) rotate(-316.875) scale(.001443 .00143472)"><use href="#sa"/><text class="ra" y="5">Solyc04g008960.3</text></g>
<g id="a170" transform="rotate(318.75) translate(1) rotate(-318.75) scale(.001443 .00143472)"><use href="#sa"/><text class="ra" y="5">Solyc01g105105.1</text></g>
<g id="a171" transform="rotate(320.625) translate(1) rotate(-320.625) scale(.001443 .00143472)"><use href="#sa"/><text class="ra" y="5">Solyc06g081880.2</text></g>
<g id="a172" transform="rotate(322.5) translate(1) rotate(-322.5) scale(.001443 .00143472)"><use href="#sa"/><text class="ra" y="5">Solyc12g008660.1</text></g>
<g id="a173" transform="rotate(324.375) translate(1) rotate(-324.375) scale(.001443 .00143472)"><use href="#sa"/><text class="ra" y="5">Solyc07g006120.3</text></g>
<g id="a174" transform="rotate(326.25) translate(1) rotate(-326.25) scale(.001443 .00143472)"><use href="#sa"/><text class="ra" y="5">Solyc08g060900.3</text></g>
<g id="a175" transform="rotate(328.125) translate(1) rotate(-328.125) scale(.001443 .00143472)"><use href="#sa"/><text class="ra" y="5">Solyc01g086670.3</text></g>
<g id="a176" transform="rotate(330) translate(1) rotate(-330) scale(.001443 .00143472)"><use href="#sa"/><text class="ra" y="5">Solyc10g079150.2</text></g>
<g id="a177" transform="rotate(331.875) translate(1) rotate(-331.875) scale(.001443 .00143472)"><use href="#sa"/><text class="ra" y="5">Solyc06g006380.2</text></g>
<g id="a178" transform="rotate(333.75) translate(1) rotate(-333.75) scale(.001443 .00143472)"><use href="#sa"/><text class="ra" y="5">Solyc08g082570.3</text></g>
<g id="a179" transform="rotate(335.625) translate(1) rotate(-335.625) scale(.001443 .00143472)"><use href="#sa"/><text class="ra" y="5">Solyc06g068540.3</text></g>
<g id="a180" transform="rotate(337.5) translate(1) rotate(-337.5) scale(.001443 .00143472)"><use href="#sa"/><text class="ra" y="5">Solyc01g060020.3</text></g>
<g id="a181" transform="rotate(339.375) translate(1) rotate(-339.375) scale(.001443 .00143472)"><use href="#sa"/><text class="ra" y="5">Solyc01g059980.3</text></g>
<g id="a182" transform="rotate(341.25) translate(1) rotate(-341.25) scale(.001443 .00143472)"><use href="#sa"/><text class="ra" y="5">Solyc01g059965.1</text></g>
<g id="a183" transform="rotate(343.125) translate(1) rotate(-343.125) scale(.001443 .00143472)"><use href="#sa"/><text class="ra" y="5">Solyc05g054365.1</text></g>
<g id="a184" transform="rotate(345) translate(1) rotate(-345) scale(.001443 .00143472)"><use href="#sa"/><text class="ra" y="5">Solyc11g007460.1</text></g>
<g id="a185" transform="rotate(346.875) translate(1) rotate(-346.875) scale(.001443 .00143472)"><use href="#sa"/><text class="ra" y="5">Solyc12g019740.2</text></g>
<g id="a186" transform="rotate(348.75) translate(1) rotate(-348.75) scale(.001443 .00143472)"><use href="#sa"/><text class="ra" y="5">Solyc08g078040.3</text></g>
<g id="a187" transform="rotate(350.625) translate(1) rotate(-350.625) scale(.001443 .00143472)"><use href="#sa"/><text class="ra" y="5">Solyc02g089150.3</text></g>
<g id="a188" transform="rotate(352.5) translate(1) rotate(-352.5) scale(.001443 .00143472)"><use href="#sa"/><text class="ra" y="5">Solyc06g065330.3</text></g>
<g id="a189" transform="rotate(354.375) translate(1) rotate(-354.375) scale(.001443 .00143472)"><use href="#sa"/><text class="ra" y="5">Solyc04g071810.3</text></g>
<g id="a190" transform="rotate(356.25) translate(1) rotate(-356.25) scale(.001443 .00143472)"><use href="#sa"/><text class="ra" y="5">Solyc04g082420.3</text></g>
<g id="a191" transform="rotate(358.125) translate(1) rotate(-358.125) scale(.001443 .00143472)"><use href="#sa"/><text class="ra" y="5">Solyc05g051220.3</text></g>
</g>
<g id="nodes-A">
<g id="A-novel_mir_079"><use href="#va" x="770" y="360"/><text class="t" x="776" y="362">novel_mir_079</text></g>
<g id="A-novel_mir_081"><use href="#va" x="876" y="386"/><text class="t" x="919" y="388">novel_mir_081</text></g>
<g id="A-novel_mir_073"><use href="#va" x="681" y="406"/><text class="t" x="718" y="415">novel_mir_073</text></g>
<g id="A-sly-miR10532"><use href="#va" x="968" y="408"/><text class="t" x="1001" y="415">sly-miR10532</text></g>
<g id="A-novel_mir_037"><use href="#va" x="592" y="446"/><text class="t" x="630" y="456">novel_mir_037</text></g>
<g id="A-sly-miR156a"><use href="#va" x="1060" y="448"/><text class="t" x="1087" y="456">sly-miR156a</text></g>
<g id="A-novel_mir_017"><use href="#va" x="512" y="508"/><text class="t" x="552" y="517">novel_mir_017</text></g>
<g id="A-sly-miR156b"><use href="#va" x="1137" y="508"/><text class="t" x="1167" y="517">sly-miR156b</text></g>
<g id="A-novel_mir_012"><use href="#va" x="451" y="580"/><text class="t" x="489" y="590">novel_mir_012</text></g>
<g id="A-sly-miR156c"><use href="#va" x="1200" y="580"/><text class="t" x="1230" y="590">sly-miR156c</text></g>
<g id="A-novel_mir_007"><use href="#va" x="410" y="668"/><text class="t" x="443" y="676">novel_mir_007</text></g>
<g id="A-sly-miR166c-5p"><use href="#va" x="1247" y="673"/><text class="t" x="1276" y="670">sly-miR166c-5p</text></g>
<g id="A-sly-miR7981f"><use href="#va" x="381" y="766"/><text class="t" x="413" y="772">sly-miR7981f</text></g>
<g id="A-sly-miR319c-5p"><use href="#va" x="1275" y="766"/><text class="t" x="1297" y="762">sly-miR319c-5p</text></g>
<g id="A-sly-miR6025"><use href="#va" x="374" y="860"/><text class="t" x="406" y="868">sly-miR6025</text></g>
<g id="A-sly-miR390a-3p"><use href="#va" x="1278" y="860"/><text class="t" x="1298" y="861">sly-miR390a-3p</text></g>
<g id="A-sly-miR396a-3p"><use href="#va" x="381" y="956"/><text class="t" x="428" y="965">sly-miR396a-3p</text></g>
<g id="A-sly-miR390b-3p"><use href="#va" x="1262" y="953"/><text class="t" x="1298" y="965">sly-miR390b-3p</text></g>
<g id="A-sly-miR1917"><use href="#va" x="428" y="1046"/><text class="t" x="457" y="1056">sly-miR1917</text></g>
<g id="A-sly-miR396a-5p"><use href="#va" x="1225" y="1048"/><text class="t" x="1262" y="1056">sly-miR396a-5p</text></g>
<g id="A-sly-miR159b"><use href="#va" x="481" y="1128"/><text class="t" x="512" y="1138">sly-miR159b</text></g>
<g id="A-sly-miR396b"><use href="#va" x="1169" y="1126"/><text class="t" x="1200" y="1138">sly-miR396b</text></g>
<g id="A-sly-miR156e-5p"><use href="#va" x="553" y="1198"/><text class="t" x="590" y="1204">sly-miR156e-5p</text></g>
<g id="A-sly-miR397-5p"><use href="#va" x="1101" y="1196"/><text class="t" x="1134" y="1204">sly-miR397-5p</text></g>
<g id="A-novel_mir_025"><use href="#va" x="637" y="1250"/><text class="t" x="633" y="1256">novel_mir_025</text></g>
<g id="A-sly-miR7981e"><use href="#va" x="1014" y="1246"/><text class="t" x="1047" y="1256">sly-miR7981e</text></g>
<g id="A-novel_mir_001"><use href="#va" x="732" y="1273"/><text class="t" x="733" y="1290">novel_mir_001</text></g>
<g id="A-sly-miR9470-3p"><use href="#va" x="935" y="1280"/><text class="t" x="1010" y="1293">sly-miR9470-3p</text></g>
<g id="A-sly-miR9472-5p"><use href="#va" x="831" y="1330"/><text class="t" x="856" y="1343">sly-miR9472-5p</text></g>
<g id="A-sly_circ_309"><use href="#ca" x="842" y="594"/><text class="t" x="869" y="603">sly_circ_309</text></g>
<g id="A-sly_circ_2532"><use href="#ca" x="729" y="631"/><text class="t" x="764" y="642">sly_circ_2532</text></g>
<g id="A-sly_circ_154"><use href="#ca" x="944" y="633"/><text class="t" x="983" y="645">sly_circ_154</text></g>
<g id="A-sly_circ_2508"><use href="#ca" x="660" y="688"/><text class="t" x="693" y="698">sly_circ_2508</text></g>
<g id="A-sly_circ_1132"><use href="#ca" x="1021" y="688"/><text class="t" x="1055" y="698">sly_circ_1132</text></g>
<g id="A-sly_circ_4011"><use href="#ca" x="614" y="781"/><text class="t" x="647" y="791">sly_circ_4011</text></g>
<g id="A-sly_circ_3635"><use href="#ca" x="1067" y="781"/><text class="t" x="1080" y="791">sly_circ_3635</text></g>
<g id="A-sly_circ_936"><use href="#ca" x="614" y="885"/><text class="t" x="646" y="895">sly_circ_936</text></g>
<g id="A-sly_circ_3552"><use href="#ca" x="1065" y="885"/><text class="t" x="1100" y="895">sly_circ_3552</text></g>
<g id="A-sly_circ_1857"><use href="#ca" x="660" y="976"/><text class="t" x="693" y="987">sly_circ_1857</text></g>
<g id="A-sly_circ_1172"><use href="#ca" x="1021" y="976"/><text class="t" x="1055" y="987">sly_circ_1172</text></g>
<g id="A-sly_circ_2467"><use href="#ca" x="742" y="1041"/><text class="t" x="742" y="1048">sly_circ_2467</text></g>
<g id="A-sly_circ_2444"><use href="#ca" x="942" y="1041"/><text class="t" x="965" y="1052">sly_circ_2444</text></g>
<g id="A-sly_circ_526"><use href="#ca" x="842" y="1071"/><text class="t" x="855" y="1087">sly_circ_526</text></g>
</g>
<g id="nodes-B">
<g id="B-Solyc08g007080.3"><use href="#sb" x="2351" y="240"/><text class="rb" x="2379" y="249">Solyc08g007080.3</text></g>
<g id="B-Solyc11g067340.1"><use href="#sb" x="2141" y="310"/><text class="rb" x="2169" y="319">Solyc11g067340.1</text></g>
<g id="B-Solyc04g076970.3"><use href="#sb" x="2530" y="310"/><text class="rb" x="2558" y="319">Solyc04g076970.3</text></g>
<g id="B-Solyc03g026120.3"><use href="#sb" x="1993" y="408"/><text class="rb" x="2021" y="417">Solyc03g026120.3</text></g>
<g id="B-Solyc02g077460.2"><use href="#sb" x="2638" y="408"/><text class="rb" x="2666" y="417">Solyc02g077460.2</text></g>
<g id="B-Solyc11g069590.2"><use href="#sb" x="1895" y="556"/><text class="rb" x="1923" y="565">Solyc11g069590.2</text></g>
<g id="B-Solyc06g076040.3"><use href="#sb" x="2737" y="556"/><text class="rb" x="2765" y="565">Solyc06g076040.3</text></g>
<g id="B-Solyc07g043000.3"><use href="#sb" x="1860" y="732"/><text class="rb" x="1888" y="741">Solyc07g043000.3</text></g>
<g id="B-Solyc07g017870.2"><use href="#sb" x="2772" y="732"/><text class="rb" x="2800" y="741">Solyc07g017870.2</text></g>
<g id="B-Solyc06g031710.3"><use href="#sb" x="1895" y="906"/><text class="rb" x="1923" y="915">Solyc06g031710.3</text></g>
<g id="B-Solyc09g009830.3"><use href="#sb" x="2737" y="906"/><text class="rb" x="2765" y="915">Solyc09g009830.3</text></g>
<g id="B-Solyc10g080460.2"><use href="#sb" x="2638" y="1054"/><text class="rb" x="2666" y="1063">Solyc10g080460.2</text></g>
<g id="B-Solyc02g090380.3"><use href="#sb" x="2490" y="1154"/><text class="rb" x="2518" y="1163">Solyc02g090380.3</text></g>
<g id="B-Solyc07g062700.3"><use href="#sb" x="2161" y="1194"/><text class="rb" x="2189" y="1203">Solyc07g062700.3</text></g>
<g id="B-sly_circ_871"><use href="#cb" x="1960" y="1071"/><text class="t" x="1977" y="1083">sly_circ_871</text></g>
<g id="B-novel_mir_034"><use href="#vb" x="2320" y="726"/><text class="t" x="2338" y="738">novel_mir_034</text></g>
</g>
<g id="legend">
<g id="legend-miRNA"><use href="#vl" x="2742" y="1310"/><text class="lg" x="2797" y="1337">miRNA</text></g>
<g id="legend-circRNA"><circle class="ci" cx="2742" cy="1398" r="27"/><text class="lg" x="2794" y="1422">circRNA</text></g>
<g id="legend-mRNA"><rect class="mr" x="2720" y="1465" width="43" height="43"/><text class="lg" x="2797" y="1509">mRNA</text></g>
</g>
<g id="ring-C" transform="translate(822 2300) scale(680 688)">
<g id="c0" transform="rotate(0) translate(1) rotate(0) scale(.00147059 .00145349)"><use href="#sc"/><text class="rc" y="7">Solyc02g090310.1</text></g>
<g id="c1" transform="rotate(2.5) translate(1) rotate(-2.5) scale(.00147059 .00145349)"><use href="#sc"/><text class="rc" y="7">Solyc06g082460.1</text></g>
<g id="c2" transform="rotate(5) translate(1) rotate(-5) scale(.00147059 .00145349)"><use href="#sc"/><text class="rc" y="7">Solyc02g080210.3</text></g>
<g id="c3" transform="rotate(7.5) translate(1) rotate(-7.5) scale(.00147059 .00145349)"><use href="#sc"/><text class="rc" y="7">Solyc08g066770.3</text></g>
<g id="c4" transform="rotate(10) translate(1) rotate(-10) scale(.00147059 .00145349)"><use href="#sc"/><text class="rc" y="7">Solyc12g098620.2</text></g>
<g id="c5" transform="rotate(12.5) translate(1) rotate(-12.5) scale(.00147059 .00145349)"><use href="#sc"/><text class="rc" y="7">Solyc03g117570.3</text></g>
<g id="c6" transform="rotate(15) translate(1) rotate(-15) scale(.00147059 .00145349)"><use href="#sc"/><text class="rc" y="7">Solyc09g009190.3</text></g>
<g id="c7" transform="rotate(17.5) translate(1) rotate(-17.5) scale(.00147059 .00145349)"><use href="#sc"/><text class="rc" y="7">Solyc03g111120.3</text></g>
<g id="c8" transform="rotate(20) translate(1) rotate(-20) scale(.00147059 .00145349)"><use href="#sc"/><text class="rc" y="7">Solyc06g070970.3</text></g>
<g id="c9" transform="rotate(22.5) translate(1) rotate(-22.5) scale(.00147059 .00145349)"><use href="#sc"/><text class="rc" y="7">Solyc10g080400.2</text></g>
<g id="c10" transform="rotate(25) translate(1) rotate(-25) scale(.00147059 .00145349)"><use href="#sc"/><text class="rc" y="7">Solyc01g111550.3</text></g>
<g id="c11" transform="rotate(27.5) translate(1) rotate(-27.5) scale(.00147059 .00145349)"><use href="#sc"/><text class="rc" y="7">Solyc04g071620.3</text></g>
<g id="c12" transform="rotate(30) translate(1) rotate(-30) scale(.00147059 .00145349)"><use href="#sc"/><text class="rc" y="7">Solyc04g071615.1</text></g>
<g id="c13" transform="rotate(32.5) translate(1) rotate(-32.5) scale(.00147059 .00145349)"><use href="#sc"/><text class="rc" y="7">Solyc05g012510.3</text></g>
<g id="c14" transform="rotate(35) translate(1) rotate(-35) scale(.00147059 .00145349)"><use href="#sc"/><text class="rc" y="7">Solyc01g007000.3</text></g>
<g id="c15" transform="rotate(37.5) translate(1) rotate(-37.5) scale(.00147059 .00145349)"><use href="#sc"/><text class="rc" y="7">Solyc09g061930.3</text></g>
<g id="c16" transform="rotate(40) translate(1) rotate(-40) scale(.00147059 .00145349)"><use href="#sc"/><text class="rc" y="7">Solyc03g114930.3</text></g>
<g id="c17" transform="rotate(42.5) translate(1) rotate(-42.5) scale(.00147059 .00145349)"><use href="#sc"/><text class="rc" y="7">Solyc02g093300.3</text></g>
<g id="c18" transform="rotate(45) translate(1) rotate(-45) scale(.00147059 .00145349)"><use href="#sc"/><text class="rc" y="7">Solyc07g005990.3</text></g>
<g id="c19" transform="rotate(47.5) translate(1) rotate(-47.5) scale(.00147059 .00145349)"><use href="#sc"/><text class="rc" y="7">Solyc10g080350.2</text></g>
<g id="c20" transform="rotate(50) translate(1) rotate(-50) scale(.00147059 .00145349)"><use href="#sc"/><text class="rc" y="7">Solyc03g119940.3</text></g>
<g id="c21" transform="rotate(52.5) translate(1) rotate(-52.5) scale(.00147059 .00145349)"><use href="#sc"/><text class="rc" y="7">Solyc09g007150.3</text></g>
<g id="c22" transform="rotate(55) translate(1) rotate(-55) scale(.00147059 .00145349)"><use href="#sc"/></g>
<g id="c23" transform="rotate(57.5) translate(1) rotate(-57.5) scale(.00147059 .00145349)"><use href="#sc"/></g>
<g id="c24" transform="rotate(60) translate(1) rotate(-60) scale(.00147059 .00145349)"><use href="#sc"/></g>
<g id="c25" transform="rotate(62.5) translate(1) rotate(-62.5) scale(.00147059 .00145349)"><use href="#sc"/></g>
<g id="c26" transform="rotate(65) translate(1) rotate(-65) scale(.00147059 .00145349)"><use href="#sc"/></g>
<g id="c27" transform="rotate(67.5) translate(1) rotate(-67.5) scale(.00147059 .00145349)"><use href="#sc"/></g>
<g id="c28" transform="rotate(70) translate(1) rotate(-70) scale(.00147059 .00145349)"><use href="#sc"/></g>
<g id="c29" transform="rotate(72.5) translate(1) rotate(-72.5) scale(.00147059 .00145349)"><use href="#sc"/></g>
<g id="c30" transform="rotate(75) translate(1) rotate(-75) scale(.00147059 .00145349)"><use href="#sc"/></g>
<g id="c31" transform="rotate(77.5) translate(1) rotate(-77.5) scale(.00147059 .00145349)"><use href="#sc"/></g>
<g id="c32" transform="rotate(80) translate(1) rotate(-80) scale(.00147059 .00145349)"><use href="#sc"/></g>
<g id="c33" transform="rotate(82.5) translate(1) rotate(-82.5) scale(.00147059 .00145349)"><use href="#sc"/></g>
<g id="c34" transform="rotate(85) translate(1) rotate(-85) scale(.00147059 .00145349)"><use href="#sc"/></g>
<g id="c35" transform="rotate(87.5) translate(1) rotate(-87.5) scale(.00147059 .00145349)"><use href="#sc"/></g>
<g id="c36" transform="rotate(90) translate(1) rotate(-90) scale(.00147059 .00145349)"><use href="#sc"/></g>
<g id="c37" transform="rotate(92.5) translate(1) rotate(-92.5) scale(.00147059 .00145349)"><use href="#sc"/></g>
<g id="c38" transform="rotate(95) translate(1) rotate(-95) scale(.00147059 .00145349)"><use href="#sc"/></g>
<g id="c39" transform="rotate(97.5) translate(1) rotate(-97.5) scale(.00147059 .00145349)"><use href="#sc"/></g>
<g id="c40" transform="rotate(100) translate(1) rotate(-100) scale(.00147059 .00145349)"><use href="#sc"/></g>
<g id="c41" transform="rotate(102.5) translate(1) rotate(-102.5) scale(.00147059 .00145349)"><use href="#sc"/></g>
<g id="c42" transform="rotate(105) translate(1) rotate(-105) scale(.00147059 .00145349)"><use href="#sc"/></g>
<g id="c43" transform="rotate(107.5) translate(1) rotate(-107.5) scale(.00147059 .00145349)"><use href="#sc"/></g>
<g id="c44" transform="rotate(110) translate(1) rotate(-110) scale(.00147059 .00145349)"><use href="#sc"/></g>
<g id="c45" transform="rotate(112.5) translate(1) rotate(-112.5) scale(.00147059 .00145349)"><use href="#sc"/></g>
<g id="c46" transform="rotate(115) translate(1) rotate(-115) scale(.00147059 .00145349)"><use href="#sc"/></g>
<g id="c47" transform="rotate(117.5) translate(1) rotate(-117.5) scale(.00147059 .00145349)"><use href="#sc"/></g>
<g id="c48" transform="rotate(120) translate(1) rotate(-120) scale(.00147059 .00145349)"><use href="#sc"/></g>
<g id="c49" transform="rotate(122.5) translate(1) rotate(-122.5) scale(.00147059 .00145349)"><use href="#sc"/></g>
<g id="c50" transform="rotate(125) translate(1) rotate(-125) scale(.00147059 .00145349)"><use href="#sc"/></g>
<g id="c51" transform="rotate(127.5) translate(1) rotate(-127.5) scale(.00147059 .00145349)"><use href="#sc"/></g>
<g id="c52" transform="rotate(130) translate(1) rotate(-130) scale(.00147059 .00145349)"><use href="#sc"/><text class="rc" y="7">Solyc06g083310.3</text></g>
<g id="c53" transform="rotate(132.5) translate(1) rotate(-132.5) scale(.00147059 .00145349)"><use href="#sc"/></g>
<g id="c54" transform="rotate(135) translate(1) rotate(-135) scale(.00147059 .00145349)"><use href="#sc"/><text class="rc" y="7">Solyc03g093650.3</text></g>
<g id="c55" transform="rotate(137.5) translate(1) rotate(-137.5) scale(.00147059 .00145349)"><use href="#sc"/><text class="rc" y="7">Solyc04g077490.3</text></g>
<g id="c56" transform="rotate(140) translate(1) rotate(-140) scale(.00147059 .00145349)"><use href="#sc"/><text class="rc" y="7">Solyc01g103470.2</text></g>
<g id="c57" transform="rotate(142.5) translate(1) rotate(-142.5) scale(.00147059 .00145349)"><use href="#sc"/><text class="rc" y="7">Solyc06g073610.3</text></g>
<g id="c58" transform="rotate(145) translate(1) rotate(-145) scale(.00147059 .00145349)"><use href="#sc"/><text class="rc" y="7">Solyc10g086760.2</text></g>
<g id="c59" transform="rotate(147.5) translate(1) rotate(-147.5) scale(.00147059 .00145349)"><use href="#sc"/><text class="rc" y="7">Solyc10g006920.3</text></g>
<g id="c60" transform="rotate(150) translate(1) rotate(-150) scale(.00147059 .00145349)"><use href="#sc"/><text class="rc" y="7">Solyc04g005640.3</text></g>
<g id="c61" transform="rotate(152.5) translate(1) rotate(-152.5) scale(.00147059 .00145349)"><use href="#sc"/><text class="rc" y="7">Solyc08g044510.3</text></g>
<g id="c62" transform="rotate(155) translate(1) rotate(-155) scale(.00147059 .00145349)"><use href="#sc"/><text class="rc" y="7">Solyc12g011290.2</text></g>
<g id="c63" transform="rotate(157.5) translate(1) rotate(-157.5) scale(.00147059 .00145349)"><use href="#sc"/><text class="rc" y="7">Solyc10g081550.2</text></g>
<g id="c64" transform="rotate(160) translate(1) rotate(-160) scale(.00147059 .00145349)"><use href="#sc"/><text class="rc" y="7">Solyc03g121760.3</text></g>
<g id="c65" transform="rotate(162.5) translate(1) rotate(-162.5) scale(.00147059 .00145349)"><use href="#sc"/><text class="rc" y="7">Solyc04g050930.3</text></g>
<g id="c66" transform="rotate(165) translate(1) rotate(-165) scale(.00147059 .00145349)"><use href="#sc"/><text class="rc" y="7">Solyc11g067080.2</text></g>
<g id="c67" transform="rotate(167.5) translate(1) rotate(-167.5) scale(.00147059 .00145349)"><use href="#sc"/><text class="rc" y="7">Solyc10g080100.2</text></g>
<g id="c68" transform="rotate(170) translate(1) rotate(-170) scale(.00147059 .00145349)"><use href="#sc"/><text class="rc" y="7">Solyc09g060110.3</text></g>
<g id="c69" transform="rotate(172.5) translate(1) rotate(-172.5) scale(.00147059 .00145349)"><use href="#sc"/><text class="rc" y="7">Solyc08g042030.2</text></g>
<g id="c70" transform="rotate(175) translate(1) rotate(-175) scale(.00147059 .00145349)"><use href="#sc"/><text class="rc" y="7">Solyc07g053820.3</text></g>
<g id="c71" transform="rotate(177.5) translate(1) rotate(-177.5) scale(.00147059 .00145349)"><use href="#sc"/><text class="rc" y="7">Solyc01g106540.3</text></g>
<g id="c72" transform="rotate(180) translate(1) rotate(-180) scale(.00147059 .00145349)"><use href="#sc"/><text class="rc" y="7">Solyc12g098540.2</text></g>
<g id="c73" transform="rotate(182.5) translate(1) rotate(-182.5) scale(.00147059 .00145349)"><use href="#sc"/><text class="rc" y="7">Solyc02g030120.2</text></g>
<g id="c74" transform="rotate(185) translate(1) rotate(-185) scale(.00147059 .00145349)"><use href="#sc"/><text class="rc" y="7">Solyc05g050550.3</text></g>
<g id="c75" transform="rotate(187.5) translate(1) rotate(-187.5) scale(.00147059 .00145349)"><use href="#sc"/><text class="rc" y="7">Solyc08g005050.3</text></g>
<g id="c76" transform="rotate(190) translate(1) rotate(-190) scale(.00147059 .00145349)"><use href="#sc"/><text class="rc" y="7">Solyc02g030480.3</text></g>
<g id="c77" transform="rotate(192.5) translate(1) rotate(-192.5) scale(.00147059 .00145349)"><use href="#sc"/><text class="rc" y="7">Solyc07g063350.3</text></g>
<g id="c78" transform="rotate(195) translate(1) rotate(-195) scale(.00147059 .00145349)"><use href="#sc"/><text class="rc" y="7">Solyc02g084640.3</text></g>
<g id="c79" transform="rotate(197.5) translate(1) rotate(-197.5) scale(.00147059 .00145349)"><use href="#sc"/><text class="rc" y="7">Solyc10g083310.2</text></g>
<g id="c80" transform="rotate(200) translate(1) rotate(-200) scale(.00147059 .00145349)"><use href="#sc"/><text class="rc" y="7">Solyc08g077990.3</text></g>
<g id="c81" transform="rotate(202.5) translate(1) rotate(-202.5) scale(.00147059 .00145349)"><use href="#sc"/><text class="rc" y="7">Solyc04g078810.3</text></g>
<g id="c82" transform="rotate(205) translate(1) rotate(-205) scale(.00147059 .00145349)"><use href="#sc"/><text class="rc" y="7">Solyc02g069450.3</text></g>
<g id="c83" transform="rotate(207.5) translate(1) rotate(-207.5) scale(.00147059 .00145349)"><use href="#sc"/><text class="rc" y="7">Solyc09g082990.3</text></g>
<g id="c84" transform="rotate(210) translate(1) rotate(-210) scale(.00147059 .00145349)"><use href="#sc"/><text class="rc" y="7">Solyc11g066940.2</text></g>
<g id="c85" transform="rotate(212.5) translate(1) rotate(-212.5) scale(.00147059 .00145349)"><use href="#sc"/><text class="rc" y="7">Solyc11g065720.2</text></g>
<g id="c86" transform="rotate(215) translate(1) rotate(-215) scale(.00147059 .00145349)"><use href="#sc"/><text class="rc" y="7">Solyc03g005020.3</text></g>
<g id="c87" transform="rotate(217.5) translate(1) rotate(-217.5) scale(.00147059 .00145349)"><use href="#sc"/><text class="rc" y="7">Solyc01g090440.2</text></g>
<g id="c88" transform="rotate(220) translate(1) rotate(-220) scale(.00147059 .00145349)"><use href="#sc"/><text class="rc" y="7">Solyc03g062660.3</text></g>
<g id="c89" transform="rotate(222.5) translate(1) rotate(-222.5) scale(.00147059 .00145349)"><use href="#sc"/><text class="rc" y="7">Solyc02g066900.3</text></g>
<g id="c90" transform="rotate(225) translate(1) rotate(-225) scale(.00147059 .00145349)"><use href="#sc"/><text class="rc" y="7">Solyc10g084280.2</text></g>
<g id="c91" transform="rotate(227.5) translate(1) rotate(-227.5) scale(.00147059 .00145349)"><use href="#sc"/><text class="rc" y="7">Solyc05g044480.3</text></g>
<g id="c92" transform="rotate(230) translate(1) rotate(-230) scale(.00147059 .00145349)"><use href="#sc"/><text class="rc" y="7">Solyc11g011030.2</text></g>
<g id="c93" transform="rotate(232.5) translate(1) rotate(-232.5) scale(.00147059 .00145349)"><use href="#sc"/></g>
<g id="c94" transform="rotate(235) translate(1) rotate(-235) scale(.00147059 .00145349)"><use href="#sc"/></g>
<g id="c95" transform="rotate(237.5) translate(1) rotate(-237.5) scale(.00147059 .00145349)"><use href="#sc"/></g>
<g id="c96" transform="rotate(240) translate(1) rotate(-240) scale(.00147059 .00145349)"><use href="#sc"/></g>
<g id="c97" transform="rotate(242.5) translate(1) rotate(-242.5) scale(.00147059 .00145349)"><use href="#sc"/></g>
<g id="c98" transform="rotate(245) translate(1) rotate(-245) scale(.00147059 .00145349)"><use href="#sc"/></g>
<g id="c99" transform="rotate(247.5) translate(1) rotate(-247.5) scale(.00147059 .00145349)"><use href="#sc"/></g>
<g id="c100" transform="rotate(250) translate(1) rotate(-250) scale(.00147059 .00145349)"><use href="#sc"/></g>
<g id="c101" transform="rotate(252.5) translate(1) rotate(-252.5) scale(.00147059 .00145349)"><use href="#sc"/></g>
<g id="c102" transform="rotate(255) translate(1) rotate(-255) scale(.00147059 .00145349)"><use href="#sc"/></g>
<g id="c103" transform="rotate(257.5) translate(1) rotate(-257.5) scale(.00147059 .00145349)"><use href="#sc"/></g>
<g id="c104" transform="rotate(260) translate(1) rotate(-260) scale(.00147059 .00145349)"><use href="#sc"/></g>
<g id="c105" transform="rotate(262.5) translate(1) rotate(-262.5) scale(.00147059 .00145349)"><use href="#sc"/></g>
<g id="c106" transform="rotate(265) translate(1) rotate(-265) scale(.00147059 .00145349)"><use href="#sc"/></g>
<g id="c107" transform="rotate(267.5) translate(1) rotate(-267.5) scale(.00147059 .00145349)"><use href="#sc"/></g>
<g id="c108" transform="rotate(270) translate(1) rotate(-270) scale(.00147059 .00145349)"><use href="#sc"/></g>
<g id="c109" transform="rotate(272.5) translate(1) rotate(-272.5) scale(.00147059 .00145349)"><use href="#sc"/></g>
<g id="c110" transform="rotate(275) translate(1) rotate(-275) scale(.00147059 .00145349)"><use href="#sc"/></g>
<g id="c111" transform="rotate(277.5) translate(1) rotate(-277.5) scale(.00147059 .00145349)"><use href="#sc"/></g>
<g id="c112" transform="rotate(280) translate(1) rotate(-280) scale(.00147059 .00145349)"><use href="#sc"/></g>
<g id="c113" transform="rotate(282.5) translate(1) rotate(-282.5) scale(.00147059 .00145349)"><use href="#sc"/></g>
<g id="c114" transform="rotate(285) translate(1) rotate(-285) scale(.00147059 .00145349)"><use href="#sc"/></g>
<g id="c115" transform="rotate(287.5) translate(1) rotate(-287.5) scale(.00147059 .00145349)"><use href="#sc"/></g>
<g id="c116" transform="rotate(290) translate(1) rotate(-290) scale(.00147059 .00145349)"><use href="#sc"/></g>
<g id="c117" transform="rotate(292.5) translate(1) rotate(-292.5) scale(.00147059 .00145349)"><use href="#sc"/></g>
<g id="c118" transform="rotate(295) translate(1) rotate(-295) scale(.00147059 .00145349)"><use href="#sc"/></g>
<g id="c119" transform="rotate(297.5) translate(1) rotate(-297.5) scale(.00147059 .00145349)"><use href="#sc"/></g>
<g id="c120" transform="rotate(300) translate(1) rotate(-300) scale(.00147059 .00145349)"><use href="#sc"/></g>
<g id="c121" transform="rotate(302.5) translate(1) rotate(-302.5) scale(.00147059 .00145349)"><use href="#sc"/></g>
<g id="c122" transform="rotate(305) translate(1) rotate(-305) scale(.00147059 .00145349)"><use href="#sc"/><text class="rc" y="7">Solyc12g049320.2</text></g>
<g id="c123" transform="rotate(307.5) translate(1) rotate(-307.5) scale(.00147059 .00145349)"><use href="#sc"/></g>
<g id="c124" transform="rotate(310) translate(1) rotate(-310) scale(.00147059 .00145349)"><use href="#sc"/><text class="rc" y="7">Solyc09g092330.2</text></g>
<g id="c125" transform="rotate(312.5) translate(1) rotate(-312.5) scale(.00147059 .00145349)"><use href="#sc"/><text class="rc" y="7">Solyc07g065600.3</text></g>
<g id="c126" transform="rotate(315) translate(1) rotate(-315) scale(.00147059 .00145349)"><use href="#sc"/><text class="rc" y="7">Solyc03g006670.3</text></g>
<g id="c127" transform="rotate(317.5) translate(1) rotate(-317.5) scale(.00147059 .00145349)"><use href="#sc"/><text class="rc" y="7">Solyc03g050540.3</text></g>
<g id="c128" transform="rotate(320) translate(1) rotate(-320) scale(.00147059 .00145349)"><use href="#sc"/><text class="rc" y="7">Solyc02g079360.2</text></g>
<g id="c129" transform="rotate(322.5) translate(1) rotate(-322.5) scale(.00147059 .00145349)"><use href="#sc"/><text class="rc" y="7">Solyc03g114870.1</text></g>
<g id="c130" transform="rotate(325) translate(1) rotate(-325) scale(.00147059 .00145349)"><use href="#sc"/><text class="rc" y="7">Solyc02g065170.3</text></g>
<g id="c131" transform="rotate(327.5) translate(1) rotate(-327.5) scale(.00147059 .00145349)"><use href="#sc"/><text class="rc" y="7">Solyc02g068170.1</text></g>
<g id="c132" transform="rotate(330) translate(1) rotate(-330) scale(.00147059 .00145349)"><use href="#sc"/><text class="rc" y="7">Solyc04g078720.1</text></g>
<g id="c133" transform="rotate(332.5) translate(1) rotate(-332.5) scale(.00147059 .00145349)"><use href="#sc"/><text class="rc" y="7">Solyc04g078730.1</text></g>
<g id="c134" transform="rotate(335) translate(1) rotate(-335) scale(.00147059 .00145349)"><use href="#sc"/><text class="rc" y="7">Solyc10g078280.3</text></g>
<g id="c135" transform="rotate(337.5) translate(1) rotate(-337.5) scale(.00147059 .00145349)"><use href="#sc"/><text class="rc" y="7">Solyc03g093310.3</text></g>
<g id="c136" transform="rotate(340) translate(1) rotate(-340) scale(.00147059 .00145349)"><use href="#sc"/><text class="rc" y="7">Solyc01g066430.3</text></g>
<g id="c137" transform="rotate(342.5) translate(1) rotate(-342.5) scale(.00147059 .00145349)"><use href="#sc"/><text class="rc" y="7">Solyc02g090500.3</text></g>
<g id="c138" transform="rotate(345) translate(1) rotate(-345) scale(.00147059 .00145349)"><use href="#sc"/><text class="rc" y="7">Solyc03g007200.2</text></g>
<g id="c139" transform="rotate(347.5) translate(1) rotate(-347.5) scale(.00147059 .00145349)"><use href="#sc"/><text class="rc" y="7">Solyc03g095770.3</text></g>
<g id="c140" transform="rotate(350) translate(1) rotate(-350) scale(.00147059 .00145349)"><use href="#sc"/><text class="rc" y="7">Solyc06g065430.3</text></g>
<g id="c141" transform="rotate(352.5) translate(1) rotate(-352.5) scale(.00147059 .00145349)"><use href="#sc"/><text class="rc" y="7">Solyc04g077470.3</text></g>
<g id="c142" transform="rotate(355) translate(1) rotate(-355) scale(.00147059 .00145349)"><use href="#sc"/><text class="rc" y="7">Solyc07g065500.2</text></g>
<g id="c143" transform="rotate(357.5) translate(1) rotate(-357.5) scale(.00147059 .00145349)"><use href="#sc"/><text class="rc" y="7">Solyc01g108220.3</text></g>
</g>
<g id="nodes-C">
<g id="C-novel_mir_109"><use href="#vc" x="807" y="1881"/><text class="t" x="807" y="1893">novel_mir_109</text></g>
<g id="C-novel_mir_035"><use href="#vc" x="598" y="1937"/><text class="t" x="596" y="1949">novel_mir_035</text></g>
<g id="C-novel_mir_038"><use href="#vc" x="1017" y="1937"/><text class="t" x="1015" y="1949">novel_mir_038</text></g>
<g id="C-novel_mir_084"><use href="#vc" x="444" y="2088"/><text class="t" x="443" y="2100">novel_mir_084</text></g>
<g id="C-novel_mir_061"><use href="#vc" x="1169" y="2088"/><text class="t" x="1167" y="2100">novel_mir_061</text></g>
<g id="C-novel_mir_101"><use href="#vc" x="387" y="2299"/><text class="t" x="386" y="2311">novel_mir_101</text></g>
<g id="C-novel_mir_096"><use href="#vc" x="1226" y="2299"/><text class="t" x="1224" y="2311">novel_mir_096</text></g>
<g id="C-novel_mir_004"><use href="#vc" x="444" y="2506"/><text class="t" x="443" y="2518">novel_mir_004</text></g>
<g id="C-novel_mir_041"><use href="#vc" x="1169" y="2506"/><text class="t" x="1167" y="2518">novel_mir_041</text></g>
<g id="C-novel_mir_053"><use href="#vc" x="598" y="2659"/><text class="t" x="596" y="2671">novel_mir_053</text></g>
<g id="C-novel_mir_051"><use href="#vc" x="1017" y="2659"/><text class="t" x="1015" y="2671">novel_mir_051</text></g>
<g id="C-novel_mir_025"><use href="#vc" x="807" y="2715"/><text class="t" x="806" y="2724">novel_mir_025</text></g>
<g id="C-sly_circ_2062"><use href="#cc" x="745" y="2074"/><text class="t" x="741" y="2087">sly_circ_2062</text></g>
<g id="C-sly_circ_4228"><use href="#cc" x="907" y="2104"/><text class="t" x="906" y="2116">sly_circ_4228</text></g>
<g id="C-sly_circ_2429"><use href="#cc" x="613" y="2182"/><text class="t" x="611" y="2194">sly_circ_2429</text></g>
<g id="C-sly_circ_3512"><use href="#cc" x="1001" y="2182"/><text class="t" x="999" y="2194">sly_circ_3512</text></g>
<g id="C-sly_circ_3614"><use href="#cc" x="586" y="2333"/><text class="t" x="584" y="2345">sly_circ_3614</text></g>
<g id="C-sly_circ_3020"><use href="#cc" x="1027" y="2333"/><text class="t" x="1025" y="2345">sly_circ_3020</text></g>
<g id="C-sly_circ_4277"><use href="#cc" x="663" y="2465"/><text class="t" x="661" y="2477">sly_circ_4277</text></g>
<g id="C-sly_circ_1475"><use href="#cc" x="951" y="2465"/><text class="t" x="949" y="2477">sly_circ_1475</text></g>
<g id="C-sly_circ_2710"><use href="#cc" x="807" y="2516"/><text class="t" x="805" y="2528">sly_circ_2710</text></g>
</g>
<g id="ring-D" transform="translate(2410 2299) scale(670 668)">
<g id="d0" transform="rotate(0) translate(1) rotate(0) scale(.00149254 .00149701)"><use href="#sd"/><text class="rc" y="7">Solyc01g081310.3</text></g>
<g id="d1" transform="rotate(3) translate(1) rotate(-3) scale(.00149254 .00149701)"><use href="#sd"/><text class="rc" y="7">Solyc05g007770.3</text></g>
<g id="d2" transform="rotate(6) translate(1) rotate(-6) scale(.00149254 .00149701)"><use href="#sd"/><text class="rc" y="7">Solyc08g078030.3</text></g>
<g id="d3" transform="rotate(9) translate(1) rotate(-9) scale(.00149254 .00149701)"><use href="#sd"/><text class="rc" y="7">Solyc06g060970.2</text></g>
<g id="d4" transform="rotate(12) translate(1) rotate(-12) scale(.00149254 .00149701)"><use href="#sd"/><text class="rc" y="7">Solyc03g120980.3</text></g>
<g id="d5" transform="rotate(15) translate(1) rotate(-15) scale(.00149254 .00149701)"><use href="#sd"/><text class="rc" y="7">Solyc06g084130.3</text></g>
<g id="d6" transform="rotate(18) translate(1) rotate(-18) scale(.00149254 .00149701)"><use href="#sd"/><text class="rc" y="7">Solyc12g099430.2</text></g>
<g id="d7" transform="rotate(21) translate(1) rotate(-21) scale(.00149254 .00149701)"><use href="#sd"/><text class="rc" y="7">Solyc02g090210.3</text></g>
<g id="d8" transform="rotate(24) translate(1) rotate(-24) scale(.00149254 .00149701)"><use href="#sd"/><text class="rc" y="7">Solyc07g008250.3</text></g>
<g id="d9" transform="rotate(27) translate(1) rotate(-27) scale(.00149254 .00149701)"><use href="#sd"/><text class="rc" y="7">Solyc11g056650.2</text></g>
<g id="d10" transform="rotate(30) translate(1) rotate(-30) scale(.00149254 .00149701)"><use href="#sd"/><text class="rc" y="7">Solyc04g078195.1</text></g>
<g id="d11" transform="rotate(33) translate(1) rotate(-33) scale(.00149254 .00149701)"><use href="#sd"/><text class="rc" y="7">Solyc05g006980.3</text></g>
<g id="d12" transform="rotate(36) translate(1) rotate(-36) scale(.00149254 .00149701)"><use href="#sd"/><text class="rc" y="7">Solyc09g005780.2</text></g>
<g id="d13" transform="rotate(39) translate(1) rotate(-39) scale(.00149254 .00149701)"><use href="#sd"/><text class="rc" y="7">Solyc12g056960.2</text></g>
<g id="d14" transform="rotate(42) translate(1) rotate(-42) scale(.00149254 .00149701)"><use href="#sd"/><text class="rc" y="7">Solyc05g052980.3</text></g>
<g id="d15" transform="rotate(45) translate(1) rotate(-45) scale(.00149254 .00149701)"><use href="#sd"/><text class="rc" y="7">Solyc07g042550.3</text></g>
<g id="d16" transform="rotate(48) translate(1) rotate(-48) scale(.00149254 .00149701)"><use href="#sd"/><text class="rc" y="7">Solyc05g013530.3</text></g>
<g id="d17" transform="rotate(51) translate(1) rotate(-51) scale(.00149254 .00149701)"><use href="#sd"/><text class="rc" y="7">Solyc01g096860.2</text></g>
<g id="d18" transform="rotate(54) translate(1) rotate(-54) scale(.00149254 .00149701)"><use href="#sd"/><text class="rc" y="7">Solyc06g050530.3</text></g>
<g id="d19" transform="rotate(57) translate(1) rotate(-57) scale(.00149254 .00149701)"><use href="#sd"/><text class="rc" y="7">Solyc09g010940.3</text></g>
<g id="d20" transform="rotate(60) translate(1) rotate(-60) scale(.00149254 .00149701)"><use href="#sd"/></g>
<g id="d21" transform="rotate(63) translate(1) rotate(-63) scale(.00149254 .00149701)"><use href="#sd"/></g>
<g id="d22" transform="rotate(66) translate(1) rotate(-66) scale(.00149254 .00149701)"><use href="#sd"/></g>
<g id="d23" transform="rotate(69) translate(1) rotate(-69) scale(.00149254 .00149701)"><use href="#sd"/></g>
<g id="d24" transform="rotate(72) translate(1) rotate(-72) scale(.00149254 .00149701)"><use href="#sd"/></g>
<g id="d25" transform="rotate(75) translate(1) rotate(-75) scale(.00149254 .00149701)"><use href="#sd"/></g>
<g id="d26" transform="rotate(78) translate(1) rotate(-78) scale(.00149254 .00149701)"><use href="#sd"/></g>
<g id="d27" transform="rotate(81) translate(1) rotate(-81) scale(.00149254 .00149701)"><use href="#sd"/></g>
<g id="d28" transform="rotate(84) translate(1) rotate(-84) scale(.00149254 .00149701)"><use href="#sd"/></g>
<g id="d29" transform="rotate(87) translate(1) rotate(-87) scale(.00149254 .00149701)"><use href="#sd"/></g>
<g id="d30" transform="rotate(90) translate(1) rotate(-90) scale(.00149254 .00149701)"><use href="#sd"/></g>
<g id="d31" transform="rotate(93) translate(1) rotate(-93) scale(.00149254 .00149701)"><use href="#sd"/></g>
<g id="d32" transform="rotate(96) translate(1) rotate(-96) scale(.00149254 .00149701)"><use href="#sd"/></g>
<g id="d33" transform="rotate(99) translate(1) rotate(-99) scale(.00149254 .00149701)"><use href="#sd"/></g>
<g id="d34" transform="rotate(102) translate(1) rotate(-102) scale(.00149254 .00149701)"><use href="#sd"/></g>
<g id="d35" transform="rotate(105) translate(1) rotate(-105) scale(.00149254 .00149701)"><use href="#sd"/></g>
<g id="d36" transform="rotate(108) translate(1) rotate(-108) scale(.00149254 .00149701)"><use href="#sd"/></g>
<g id="d37" transform="rotate(111) translate(1) rotate(-111) scale(.00149254 .00149701)"><use href="#sd"/></g>
<g id="d38" transform="rotate(114) translate(1) rotate(-114) scale(.00149254 .00149701)"><use href="#sd"/></g>
<g id="d39" transform="rotate(117) translate(1) rotate(-117) scale(.00149254 .00149701)"><use href="#sd"/></g>
<g id="d40" transform="rotate(120) translate(1) rotate(-120) scale(.00149254 .00149701)"><use href="#sd"/><text class="rc" y="7">Solyc06g076710.3</text></g>
<g id="d41" transform="rotate(123) translate(1) rotate(-123) scale(.00149254 .00149701)"><use href="#sd"/><text class="rc" y="7">Solyc04g079300.3</text></g>
<g id="d42" transform="rotate(126) translate(1) rotate(-126) scale(.00149254 .00149701)"><use href="#sd"/><text class="rc" y="7">Solyc04g079305.1</text></g>
<g id="d43" transform="rotate(129) translate(1) rotate(-129) scale(.00149254 .00149701)"><use href="#sd"/><text class="rc" y="7">Solyc09g083230.1</text></g>
<g id="d44" transform="rotate(132) translate(1) rotate(-132) scale(.00149254 .00149701)"><use href="#sd"/><text class="rc" y="7">Solyc08g082440.3</text></g>
<g id="d45" transform="rotate(135) translate(1) rotate(-135) scale(.00149254 .00149701)"><use href="#sd"/><text class="rc" y="7">Solyc08g062820.3</text></g>
<g id="d46" transform="rotate(138) translate(1) rotate(-138) scale(.00149254 .00149701)"><use href="#sd"/><text class="rc" y="7">Solyc09g005690.3</text></g>
<g id="d47" transform="rotate(141) translate(1) rotate(-141) scale(.00149254 .00149701)"><use href="#sd"/><text class="rc" y="7">Solyc06g076800.3</text></g>
<g id="d48" transform="rotate(144) translate(1) rotate(-144) scale(.00149254 .00149701)"><use href="#sd"/><text class="rc" y="7">Solyc11g017400.2</text></g>
<g id="d49" transform="rotate(147) translate(1) rotate(-147) scale(.00149254 .00149701)"><use href="#sd"/><text class="rc" y="7">Solyc08g083100.2</text></g>
<g id="d50" transform="rotate(150) translate(1) rotate(-150) scale(.00149254 .00149701)"><use href="#sd"/><text class="rc" y="7">Solyc12g011420.2</text></g>
<g id="d51" transform="rotate(153) translate(1) rotate(-153) scale(.00149254 .00149701)"><use href="#sd"/><text class="rc" y="7">Solyc07g007330.1</text></g>
<g id="d52" transform="rotate(156) translate(1) rotate(-156) scale(.00149254 .00149701)"><use href="#sd"/><text class="rc" y="7">Solyc01g095720.3</text></g>
<g id="d53" transform="rotate(159) translate(1) rotate(-159) scale(.00149254 .00149701)"><use href="#sd"/><text class="rc" y="7">Solyc02g080880.3</text></g>
<g id="d54" transform="rotate(162) translate(1) rotate(-162) scale(.00149254 .00149701)"><use href="#sd"/><text class="rc" y="7">Solyc09g083240.3</text></g>
<g id="d55" transform="rotate(165) translate(1) rotate(-165) scale(.00149254 .00149701)"><use href="#sd"/><text class="rc" y="7">Solyc07g008710.3</text></g>
<g id="d56" transform="rotate(168) translate(1) rotate(-168) scale(.00149254 .00149701)"><use href="#sd"/><text class="rc" y="7">Solyc11g067000.2</text></g>
<g id="d57" transform="rotate(171) translate(1) rotate(-171) scale(.00149254 .00149701)"><use href="#sd"/><text class="rc" y="7">Solyc06g007180.3</text></g>
<g id="d58" transform="rotate(174) translate(1) rotate(-174) scale(.00149254 .00149701)"><use href="#sd"/><text class="rc" y="7">Solyc08g005960.2</text></g>
<g id="d59" transform="rotate(177) translate(1) rotate(-177) scale(.00149254 .00149701)"><use href="#sd"/><text class="rc" y="7">Solyc01g079880.3</text></g>
<g id="d60" transform="rotate(180) translate(1) rotate(-180) scale(.00149254 .00149701)"><use href="#sd"/><text class="rc" y="7">Solyc10g076610.2</text></g>
<g id="d61" transform="rotate(183) translate(1) rotate(-183) scale(.00149254 .00149701)"><use href="#sd"/><text class="rc" y="7">Solyc12g056650.2</text></g>
<g id="d62" transform="rotate(186) translate(1) rotate(-186) scale(.00149254 .00149701)"><use href="#sd"/><text class="rc" y="7">Solyc01g109810.2</text></g>
<g id="d63" transform="rotate(189) translate(1) rotate(-189) scale(.00149254 .00149701)"><use href="#sd"/><text class="rc" y="7">Solyc04g064850.3</text></g>
<g id="d64" transform="rotate(192) translate(1) rotate(-192) scale(.00149254 .00149701)"><use href="#sd"/><text class="rc" y="7">Solyc04g076695.1</text></g>
<g id="d65" transform="rotate(195) translate(1) rotate(-195) scale(.00149254 .00149701)"><use href="#sd"/><text class="rc" y="7">Solyc09g065560.3</text></g>
<g id="d66" transform="rotate(198) translate(1) rotate(-198) scale(.00149254 .00149701)"><use href="#sd"/><text class="rc" y="7">Solyc04g076690.3</text></g>
<g id="d67" transform="rotate(201) translate(1) rotate(-201) scale(.00149254 .00149701)"><use href="#sd"/><text class="rc" y="7">Solyc06g076760.2</text></g>
<g id="d68" transform="rotate(204) translate(1) rotate(-204) scale(.00149254 .00149701)"><use href="#sd"/><text class="rc" y="7">Solyc01g005140.3</text></g>
<g id="d69" transform="rotate(207) translate(1) rotate(-207) scale(.00149254 .00149701)"><use href="#sd"/><text class="rc" y="7">Solyc06g048860.2</text></g>
<g id="d70" transform="rotate(210) translate(1) rotate(-210) scale(.00149254 .00149701)"><use href="#sd"/><text class="rc" y="7">Solyc06g035960.3</text></g>
<g id="d71" transform="rotate(213) translate(1) rotate(-213) scale(.00149254 .00149701)"><use href="#sd"/><text class="rc" y="7">Solyc05g055330.3</text></g>
<g id="d72" transform="rotate(216) translate(1) rotate(-216) scale(.00149254 .00149701)"><use href="#sd"/><text class="rc" y="7">Solyc05g054730.3</text></g>
<g id="d73" transform="rotate(219) translate(1) rotate(-219) scale(.00149254 .00149701)"><use href="#sd"/><text class="rc" y="7">Solyc03g097570.3</text></g>
<g id="d74" transform="rotate(222) translate(1) rotate(-222) scale(.00149254 .00149701)"><use href="#sd"/><text class="rc" y="7">Solyc06g082260.3</text></g>
<g id="d75" transform="rotate(225) translate(1) rotate(-225) scale(.00149254 .00149701)"><use href="#sd"/><text class="rc" y="7">Solyc01g100370.3</text></g>
<g id="d76" transform="rotate(228) translate(1) rotate(-228) scale(.00149254 .00149701)"><use href="#sd"/><text class="rc" y="7">Solyc04g008590.3</text></g>
<g id="d77" transform="rotate(231) translate(1) rotate(-231) scale(.00149254 .00149701)"><use href="#sd"/><text class="rc" y="7">Solyc01g099810.3</text></g>
<g id="d78" transform="rotate(234) translate(1) rotate(-234) scale(.00149254 .00149701)"><use href="#sd"/><text class="rc" y="7">Solyc06g063655.1</text></g>
<g id="d79" transform="rotate(237) translate(1) rotate(-237) scale(.00149254 .00149701)"><use href="#sd"/><text class="rc" y="7">Solyc08g007790.3</text></g>
<g id="d80" transform="rotate(240) translate(1) rotate(-240) scale(.00149254 .00149701)"><use href="#sd"/></g>
<g id="d81" transform="rotate(243) translate(1) rotate(-243) scale(.00149254 .00149701)"><use href="#sd"/></g>
<g id="d82" transform="rotate(246) translate(1) rotate(-246) scale(.00149254 .00149701)"><use href="#sd"/></g>
<g id="d83" transform="rotate(249) translate(1) rotate(-249) scale(.00149254 .00149701)"><use href="#sd"/></g>
<g id="d84" transform="rotate(252) translate(1) rotate(-252) scale(.00149254 .00149701)"><use href="#sd"/></g>
<g id="d85" transform="rotate(255) translate(1) rotate(-255) scale(.00149254 .00149701)"><use href="#sd"/></g>
<g id="d86" transform="rotate(258) translate(1) rotate(-258) scale(.00149254 .00149701)"><use href="#sd"/></g>
<g id="d87" transform="rotate(261) translate(1) rotate(-261) scale(.00149254 .00149701)"><use href="#sd"/></g>
<g id="d88" transform="rotate(264) translate(1) rotate(-264) scale(.00149254 .00149701)"><use href="#sd"/></g>
<g id="d89" transform="rotate(267) translate(1) rotate(-267) scale(.00149254 .00149701)"><use href="#sd"/></g>
<g id="d90" transform="rotate(270) translate(1) rotate(-270) scale(.00149254 .00149701)"><use href="#sd"/></g>
<g id="d91" transform="rotate(273) translate(1) rotate(-273) scale(.00149254 .00149701)"><use href="#sd"/></g>
<g id="d92" transform="rotate(276) translate(1) rotate(-276) scale(.00149254 .00149701)"><use href="#sd"/></g>
<g id="d93" transform="rotate(279) translate(1) rotate(-279) scale(.00149254 .00149701)"><use href="#sd"/></g>
<g id="d94" transform="rotate(282) translate(1) rotate(-282) scale(.00149254 .00149701)"><use href="#sd"/></g>
<g id="d95" transform="rotate(285) translate(1) rotate(-285) scale(.00149254 .00149701)"><use href="#sd"/></g>
<g id="d96" transform="rotate(288) translate(1) rotate(-288) scale(.00149254 .00149701)"><use href="#sd"/></g>
<g id="d97" transform="rotate(291) translate(1) rotate(-291) scale(.00149254 .00149701)"><use href="#sd"/></g>
<g id="d98" transform="rotate(294) translate(1) rotate(-294) scale(.00149254 .00149701)"><use href="#sd"/></g>
<g id="d99" transform="rotate(297) translate(1) rotate(-297) scale(.00149254 .00149701)"><use href="#sd"/></g>
<g id="d100" transform="rotate(300) translate(1) rotate(-300) scale(.00149254 .00149701)"><use href="#sd"/><text class="rc" y="7">Solyc02g089167.1</text></g>
<g id="d101" transform="rotate(303) translate(1) rotate(-303) scale(.00149254 .00149701)"><use href="#sd"/><text class="rc" y="7">Solyc12g006240.2</text></g>
<g id="d102" transform="rotate(306) translate(1) rotate(-306) scale(.00149254 .00149701)"><use href="#sd"/><text class="rc" y="7">Solyc10g078270.2</text></g>
<g id="d103" transform="rotate(309) translate(1) rotate(-309) scale(.00149254 .00149701)"><use href="#sd"/><text class="rc" y="7">Solyc02g068040.3</text></g>
<g id="d104" transform="rotate(312) translate(1) rotate(-312) scale(.00149254 .00149701)"><use href="#sd"/><text class="rc" y="7">Solyc03g091470.3</text></g>
<g id="d105" transform="rotate(315) translate(1) rotate(-315) scale(.00149254 .00149701)"><use href="#sd"/><text class="rc" y="7">Solyc01g006530.1</text></g>
<g id="d106" transform="rotate(318) translate(1) rotate(-318) scale(.00149254 .00149701)"><use href="#sd"/><text class="rc" y="7">Solyc08g067960.3</text></g>
<g id="d107" transform="rotate(321) translate(1) rotate(-321) scale(.00149254 .00149701)"><use href="#sd"/><text class="rc" y="7">Solyc02g079930.3</text></g>
<g id="d108" transform="rotate(324) translate(1) rotate(-324) scale(.00149254 .00149701)"><use href="#sd"/><text class="rc" y="7">Solyc03g115850.3</text></g>
<g id="d109" transform="rotate(327) translate(1) rotate(-327) scale(.00149254 .00149701)"><use href="#sd"/><text class="rc" y="7">Solyc12g010200.2</text></g>
<g id="d110" transform="rotate(330) translate(1) rotate(-330) scale(.00149254 .00149701)"><use href="#sd"/><text class="rc" y="7">Solyc02g089160.3</text></g>
<g id="d111" transform="rotate(333) translate(1) rotate(-333) scale(.00149254 .00149701)"><use href="#sd"/><text class="rc" y="7">Solyc07g008360.2</text></g>
<g id="d112" transform="rotate(336) translate(1) rotate(-336) scale(.00149254 .00149701)"><use href="#sd"/><text class="rc" y="7">Solyc10g080210.2</text></g>
<g id="d113" transform="rotate(339) translate(1) rotate(-339) scale(.00149254 .00149701)"><use href="#sd"/><text class="rc" y="7">Solyc10g009240.3</text></g>
<g id="d114" transform="rotate(342) translate(1) rotate(-342) scale(.00149254 .00149701)"><use href="#sd"/><text class="rc" y="7">Solyc01g095740.3</text></g>
<g id="d115" transform="rotate(345) translate(1) rotate(-345) scale(.00149254 .00149701)"><use href="#sd"/><text class="rc" y="7">Solyc01g095745.1</text></g>
<g id="d116" transform="rotate(348) translate(1) rotate(-348) scale(.00149254 .00149701)"><use href="#sd"/><text class="rc" y="7">Solyc03g097500.3</text></g>
<g id="d117" transform="rotate(351) translate(1) rotate(-351) scale(.00149254 .00149701)"><use href="#sd"/><text class="rc" y="7">Solyc02g092860.3</text></g>
<g id="d118" transform="rotate(354) translate(1) rotate(-354) scale(.00149254 .00149701)"><use href="#sd"/><text class="rc" y="7">Solyc08g048450.3</text></g>
<g id="d119" transform="rotate(357) translate(1) rotate(-357) scale(.00149254 .00149701)"><use href="#sd"/><text class="rc" y="7">Solyc02g062040.3</text></g>
</g>
<g id="nodes-D">
<g id="D-sly-miR482e-5p"><use href="#vc" x="2420" y="1805"/><text class="t" x="2421" y="1817">sly-miR482e-5p</text></g>
<g id="D-novel_mir_083"><use href="#vc" x="2251" y="1857"/><text class="t" x="2251" y="1869">novel_mir_083</text></g>
<g id="D-sly-miR397-5p"><use href="#vc" x="2569" y="1857"/><text class="t" x="2569" y="1869">sly-miR397-5p</text></g>
<g id="D-sly-miR9474-3p"><use href="#vc" x="2109" y="1937"/><text class="t" x="2110" y="1949">sly-miR9474-3p</text></g>
<g id="D-novel_mir_008"><use href="#vc" x="2712" y="1937"/><text class="t" x="2712" y="1949">novel_mir_008</text></g>
<g id="D-sly-miR394-5p"><use href="#vc" x="2005" y="2062"/><text class="t" x="2006" y="2074">sly-miR394-5p</text></g>
<g id="D-sly-miR9476-3p"><use href="#vc" x="2815" y="2062"/><text class="t" x="2816" y="2074">sly-miR9476-3p</text></g>
<g id="D-sly-miR9479-3p"><use href="#vc" x="1952" y="2213"/><text class="t" x="1950" y="2225">sly-miR9479-3p</text></g>
<g id="D-novel_mir_020"><use href="#vc" x="2871" y="2213"/><text class="t" x="2872" y="2225">novel_mir_020</text></g>
<g id="D-sly-miR477-3p"><use href="#vc" x="1952" y="2375"/><text class="t" x="1951" y="2387">sly-miR477-3p</text></g>
<g id="D-novel_mir_078"><use href="#vc" x="2871" y="2375"/><text class="t" x="2872" y="2387">novel_mir_078</text></g>
<g id="D-novel_mir_039"><use href="#vc" x="2008" y="2526"/><text class="t" x="2007" y="2538">novel_mir_039</text></g>
<g id="D-novel_mir_081"><use href="#vc" x="2815" y="2526"/><text class="t" x="2817" y="2538">novel_mir_081</text></g>
<g id="D-sly-miR171e"><use href="#vc" x="2109" y="2649"/><text class="t" x="2109" y="2661">sly-miR171e</text></g>
<g id="D-novel_mir_055"><use href="#vc" x="2712" y="2649"/><text class="t" x="2712" y="2661">novel_mir_055</text></g>
<g id="D-novel_mir_089"><use href="#vc" x="2251" y="2729"/><text class="t" x="2251" y="2741">novel_mir_089</text></g>
<g id="D-novel_mir_001"><use href="#vc" x="2571" y="2729"/><text class="t" x="2571" y="2741">novel_mir_001</text></g>
<g id="D-novel_mir_027"><use href="#vc" x="2410" y="2806"/><text class="t" x="2410" y="2814">novel_mir_027</text></g>
<g id="D-sly_circ_727"><use href="#cc" x="2376" y="2057"/><text class="t" x="2375" y="2069">sly_circ_727</text></g>
<g id="D-sly_circ_2703"><use href="#cc" x="2494" y="2082"/><text class="t" x="2507" y="2094">sly_circ_2703</text></g>
<g id="D-sly_circ_1987"><use href="#cc" x="2280" y="2114"/><text class="t" x="2282" y="2126">sly_circ_1987</text></g>
<g id="D-sly_circ_3733"><use href="#cc" x="2574" y="2114"/><text class="t" x="2576" y="2126">sly_circ_3733</text></g>
<g id="D-sly_circ_772"><use href="#cc" x="2220" y="2203"/><text class="t" x="2221" y="2215">sly_circ_772</text></g>
<g id="D-sly_circ_3601"><use href="#cc" x="2635" y="2203"/><text class="t" x="2635" y="2215">sly_circ_3601</text></g>
<g id="D-sly_circ_961"><use href="#cc" x="2208" y="2308"/><text class="t" x="2208" y="2320">sly_circ_961</text></g>
<g id="D-sly_circ_2702"><use href="#cc" x="2648" y="2308"/><text class="t" x="2649" y="2320">sly_circ_2702</text></g>
<g id="D-sly_circ_3336"><use href="#cc" x="2246" y="2406"/><text class="t" x="2246" y="2418">sly_circ_3336</text></g>
<g id="D-sly_circ_1470"><use href="#cc" x="2610" y="2406"/><text class="t" x="2611" y="2418">sly_circ_1470</text></g>
<g id="D-sly_circ_4254"><use href="#cc" x="2326" y="2474"/><text class="t" x="2305" y="2486">sly_circ_4254</text></g>
<g id="D-sly_circ_2651"><use href="#cc" x="2530" y="2474"/><text class="t" x="2532" y="2486">sly_circ_2651</text></g>
<g id="D-sly_circ_3778"><use href="#cc" x="2428" y="2516"/><text class="t" x="2430" y="2528">sly_circ_3778</text></g>
</g>
</svg>
